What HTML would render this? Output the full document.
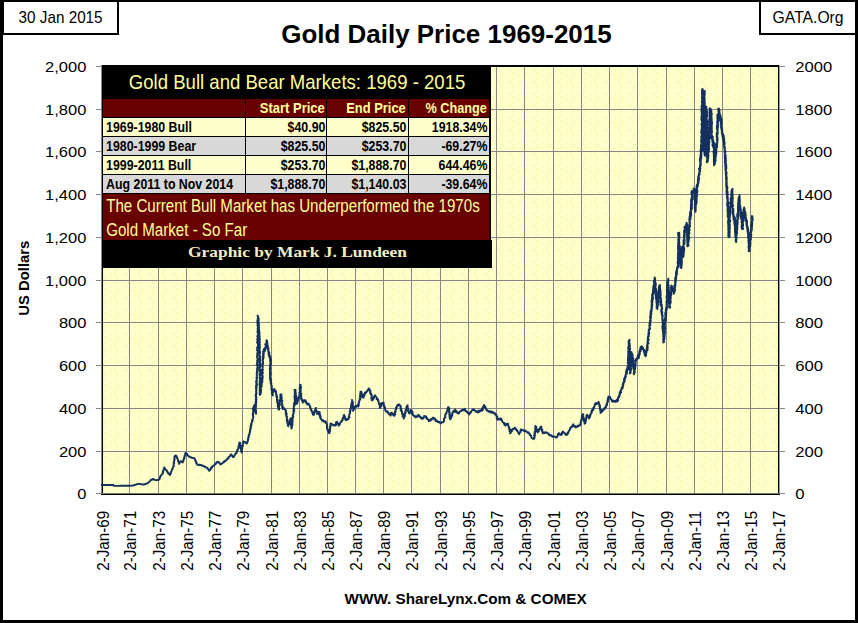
<!DOCTYPE html>
<html><head><meta charset="utf-8"><style>
html,body{margin:0;padding:0;background:#fff;}
svg{display:block;}
</style></head><body>
<svg width="858" height="623" viewBox="0 0 858 623">
<rect x="0" y="0" width="858" height="623" fill="#fff"/>
<defs><pattern id="dots" x="0" y="0" width="12" height="12" patternUnits="userSpaceOnUse"><rect width="12" height="12" fill="#FFFFCC"/><rect x="3" y="9" width="1" height="1" fill="#EDF8B0"/><rect x="8" y="2" width="1" height="1" fill="#EDF8B0"/><rect x="5" y="9" width="1" height="1" fill="#EDF8B0"/><rect x="7" y="10" width="1" height="1" fill="#EDF8B0"/><rect x="9" y="1" width="1" height="1" fill="#EDF8B0"/><rect x="9" y="0" width="1" height="1" fill="#EDF8B0"/><rect x="7" y="4" width="1" height="1" fill="#EDF8B0"/><rect x="8" y="3" width="1" height="1" fill="#EDF8B0"/><rect x="3" y="11" width="1" height="1" fill="#EDF8B0"/><rect x="7" y="8" width="1" height="1" fill="#EDF8B0"/><rect x="8" y="7" width="1" height="1" fill="#EDF8B0"/><rect x="6" y="10" width="1" height="1" fill="#EDF8B0"/><rect x="2" y="3" width="1" height="1" fill="#EDF8B0"/><rect x="10" y="2" width="1" height="1" fill="#EDF8B0"/><rect x="8" y="6" width="1" height="1" fill="#EDF8B0"/><rect x="11" y="0" width="1" height="1" fill="#EDF8B0"/></pattern></defs>
<rect x="102" y="66" width="677" height="428" fill="url(#dots)"/>
<rect x="103" y="451" width="675" height="1" fill="#868686"/>
<rect x="103" y="408" width="675" height="1" fill="#868686"/>
<rect x="103" y="365" width="675" height="1" fill="#868686"/>
<rect x="103" y="322" width="675" height="1" fill="#868686"/>
<rect x="103" y="280" width="675" height="1" fill="#868686"/>
<rect x="103" y="237" width="675" height="1" fill="#868686"/>
<rect x="103" y="194" width="675" height="1" fill="#868686"/>
<rect x="103" y="151" width="675" height="1" fill="#868686"/>
<rect x="103" y="109" width="675" height="1" fill="#868686"/>
<rect x="129" y="67" width="1" height="427" fill="#868686"/>
<rect x="158" y="67" width="1" height="427" fill="#868686"/>
<rect x="186" y="67" width="1" height="427" fill="#868686"/>
<rect x="214" y="67" width="1" height="427" fill="#868686"/>
<rect x="242" y="67" width="1" height="427" fill="#868686"/>
<rect x="271" y="67" width="1" height="427" fill="#868686"/>
<rect x="299" y="67" width="1" height="427" fill="#868686"/>
<rect x="327" y="67" width="1" height="427" fill="#868686"/>
<rect x="355" y="67" width="1" height="427" fill="#868686"/>
<rect x="383" y="67" width="1" height="427" fill="#868686"/>
<rect x="411" y="67" width="1" height="427" fill="#868686"/>
<rect x="440" y="67" width="1" height="427" fill="#868686"/>
<rect x="468" y="67" width="1" height="427" fill="#868686"/>
<rect x="496" y="67" width="1" height="427" fill="#868686"/>
<rect x="524" y="67" width="1" height="427" fill="#868686"/>
<rect x="553" y="67" width="1" height="427" fill="#868686"/>
<rect x="581" y="67" width="1" height="427" fill="#868686"/>
<rect x="609" y="67" width="1" height="427" fill="#868686"/>
<rect x="637" y="67" width="1" height="427" fill="#868686"/>
<rect x="666" y="67" width="1" height="427" fill="#868686"/>
<rect x="694" y="67" width="1" height="427" fill="#868686"/>
<rect x="722" y="67" width="1" height="427" fill="#868686"/>
<rect x="750" y="67" width="1" height="427" fill="#868686"/>
<rect x="96" y="493" width="5" height="1" fill="#868686"/>
<rect x="780" y="493" width="5" height="1" fill="#868686"/>
<rect x="96" y="451" width="5" height="1" fill="#868686"/>
<rect x="780" y="451" width="5" height="1" fill="#868686"/>
<rect x="96" y="408" width="5" height="1" fill="#868686"/>
<rect x="780" y="408" width="5" height="1" fill="#868686"/>
<rect x="96" y="365" width="5" height="1" fill="#868686"/>
<rect x="780" y="365" width="5" height="1" fill="#868686"/>
<rect x="96" y="322" width="5" height="1" fill="#868686"/>
<rect x="780" y="322" width="5" height="1" fill="#868686"/>
<rect x="96" y="280" width="5" height="1" fill="#868686"/>
<rect x="780" y="280" width="5" height="1" fill="#868686"/>
<rect x="96" y="237" width="5" height="1" fill="#868686"/>
<rect x="780" y="237" width="5" height="1" fill="#868686"/>
<rect x="96" y="194" width="5" height="1" fill="#868686"/>
<rect x="780" y="194" width="5" height="1" fill="#868686"/>
<rect x="96" y="151" width="5" height="1" fill="#868686"/>
<rect x="780" y="151" width="5" height="1" fill="#868686"/>
<rect x="96" y="109" width="5" height="1" fill="#868686"/>
<rect x="780" y="109" width="5" height="1" fill="#868686"/>
<rect x="96" y="66" width="5" height="1" fill="#868686"/>
<rect x="780" y="66" width="5" height="1" fill="#868686"/>
<rect x="101" y="65" width="679" height="2" fill="#000"/>
<rect x="101" y="65" width="1" height="430" fill="#888"/>
<rect x="102" y="65" width="1" height="430" fill="#000"/>
<rect x="778" y="65" width="1" height="430" fill="#000"/>
<rect x="779" y="65" width="1" height="430" fill="#999"/>
<rect x="101" y="493" width="679" height="1" fill="#777"/>
<rect x="101" y="494" width="679" height="1" fill="#000"/>
<path d="M101.71,484.97 L102.15,485.02 L102.80,485.01 L103.36,484.93 L103.81,484.93 L104.11,484.93 L105.00,484.99 L105.16,484.94 L106.04,485.02 L106.23,485.01 L106.52,485.08 L107.14,485.06 L107.53,484.94 L108.41,484.97 L108.76,484.95 L109.13,485.02 L109.45,485.01 L110.02,484.93 L110.63,485.03 L111.20,484.97 L111.53,484.99 L112.24,485.05 L112.65,484.96 L113.31,485.00 L113.28,485.33 L113.49,485.67 L114.14,485.89 L114.48,485.84 L115.06,485.82 L115.48,485.92 L115.82,485.92 L116.46,485.89 L116.86,485.87 L117.61,485.90 L117.94,485.84 L118.44,485.77 L119.09,485.85 L119.18,485.86 L119.87,485.79 L120.24,485.74 L120.53,485.75 L121.37,485.73 L121.56,485.73 L122.39,485.76 L122.64,485.71 L123.36,485.77 L123.83,485.80 L124.06,485.71 L124.80,485.72 L124.88,485.80 L125.41,485.68 L126.03,485.68 L126.39,485.72 L126.96,485.63 L127.50,485.68 L128.04,485.77 L128.46,485.70 L128.62,485.73 L129.49,485.76 L129.96,485.75 L130.21,485.68 L130.81,485.64 L130.96,485.64 L131.48,485.66 L131.89,485.68 L132.41,485.63 L132.99,485.48 L133.74,485.31 L133.81,485.24 L134.38,485.03 L134.72,484.89 L135.67,484.81 L135.86,484.59 L136.11,484.36 L136.67,484.25 L137.08,484.17 L137.99,483.87 L138.00,483.81 L138.40,483.87 L139.40,483.94 L139.71,484.06 L139.99,484.03 L140.69,484.08 L141.16,484.21 L141.31,484.24 L142.20,484.39 L142.57,484.46 L143.00,484.52 L143.34,484.49 L143.54,484.58 L144.10,484.37 L144.75,484.25 L145.04,484.21 L145.76,484.05 L145.84,483.90 L146.18,483.62 L146.59,483.46 L147.40,483.38 L147.59,483.26 L148.13,482.89 L148.40,482.43 L148.83,482.25 L149.01,481.88 L149.54,481.41 L149.91,481.10 L150.03,480.90 L150.70,480.42 L150.61,480.16 L150.98,479.82 L151.75,479.84 L152.14,479.46 L152.43,479.49 L152.75,479.14 L152.81,478.90 L153.59,479.31 L154.16,479.38 L154.52,479.54 L154.53,479.83 L154.98,479.87 L155.55,480.05 L155.85,480.24 L156.61,480.11 L156.82,480.06 L157.55,480.02 L158.03,479.88 L158.28,479.80 L158.45,479.71 L159.01,479.58 L159.55,479.01 L159.53,478.59 L159.76,478.28 L159.91,477.70 L160.25,477.30 L160.29,476.71 L160.29,476.28 L160.60,475.99 L161.08,475.54 L161.20,475.27 L161.55,474.79 L161.99,474.37 L162.20,473.97 L162.78,473.59 L162.88,473.20 L162.63,472.83 L163.20,472.22 L162.82,471.86 L163.16,471.10 L163.16,470.61 L163.58,470.14 L163.87,469.97 L163.89,469.23 L163.65,468.98 L164.33,468.61 L164.46,467.84 L164.29,467.45 L164.79,468.09 L164.79,468.08 L164.99,468.61 L165.25,468.83 L165.32,469.43 L165.86,469.72 L166.06,469.86 L166.44,470.49 L167.01,470.62 L167.24,471.30 L167.02,471.41 L167.58,471.77 L167.40,472.24 L168.13,472.69 L167.95,473.22 L168.66,473.29 L168.83,473.76 L168.72,473.90 L169.25,474.43 L169.87,474.54 L170.09,475.05 L170.31,474.44 L170.51,474.01 L170.37,473.72 L170.93,473.34 L170.62,472.81 L170.87,472.49 L171.01,471.91 L171.23,471.46 L171.49,471.14 L171.66,470.91 L171.75,470.33 L171.80,469.80 L171.96,469.29 L172.47,469.04 L172.58,468.33 L172.49,468.20 L172.86,467.68 L173.29,467.06 L173.23,466.55 L173.71,466.23 L173.77,465.59 L173.79,465.31 L173.65,464.66 L173.55,463.97 L174.02,463.49 L173.68,463.09 L174.20,462.50 L174.14,462.45 L173.89,461.62 L174.10,461.13 L174.14,460.55 L174.56,460.12 L174.32,460.05 L174.67,459.11 L174.29,458.66 L174.36,457.96 L174.50,457.77 L174.55,457.10 L174.43,456.47 L174.88,456.17 L174.95,455.79 L175.45,455.62 L176.02,455.46 L176.30,455.95 L176.64,456.31 L176.41,456.47 L176.46,457.24 L177.00,457.45 L177.31,457.47 L177.32,458.48 L177.62,458.84 L177.57,458.93 L177.96,459.62 L178.12,460.27 L178.33,460.60 L178.35,461.12 L178.05,461.32 L178.45,461.73 L178.94,462.18 L178.96,462.90 L179.16,463.40 L178.86,463.79 L179.57,463.56 L179.62,463.00 L179.50,462.69 L179.83,462.33 L180.04,461.56 L180.19,461.53 L180.94,461.14 L180.90,461.23 L181.50,461.45 L181.83,461.85 L181.84,462.02 L182.35,461.97 L182.76,462.54 L182.69,461.98 L182.99,461.22 L183.42,461.11 L183.26,460.65 L183.51,460.09 L183.39,459.60 L183.58,459.40 L184.23,458.99 L184.02,457.92 L184.51,457.97 L184.13,457.27 L184.78,456.64 L184.67,456.17 L184.78,455.66 L184.65,455.75 L185.08,455.19 L185.38,454.77 L185.69,453.84 L185.19,453.56 L185.69,452.74 L185.87,453.38 L186.22,453.47 L186.90,453.92 L187.15,454.01 L187.00,454.92 L187.76,455.30 L187.77,455.61 L188.18,455.57 L188.65,456.32 L188.86,456.22 L188.91,456.49 L189.82,456.71 L190.22,457.16 L190.20,457.23 L190.61,457.49 L191.64,457.49 L192.01,457.91 L192.55,457.83 L192.76,458.12 L192.86,458.07 L193.62,458.17 L194.23,458.27 L194.27,458.06 L194.50,458.90 L194.82,459.04 L195.26,459.36 L195.08,460.20 L195.28,460.43 L195.51,460.80 L195.51,461.00 L196.19,461.45 L195.88,462.04 L196.58,462.70 L196.15,462.87 L196.32,463.11 L196.52,463.57 L196.83,463.90 L197.46,464.46 L197.34,464.93 L197.88,464.76 L198.22,464.74 L198.65,464.57 L199.01,465.04 L199.82,464.80 L200.01,464.99 L200.49,464.86 L201.09,465.10 L201.82,465.56 L201.73,465.69 L202.65,465.44 L202.96,466.05 L203.10,466.07 L204.19,466.15 L204.55,466.59 L204.56,466.88 L204.91,466.69 L205.67,467.11 L206.11,467.53 L206.55,467.62 L206.82,467.76 L207.39,467.79 L207.76,468.23 L207.65,468.77 L207.90,468.88 L208.48,469.46 L208.36,469.58 L208.98,470.11 L209.03,470.40 L209.19,470.84 L209.73,470.33 L210.10,470.23 L210.25,469.82 L210.35,469.16 L210.91,469.10 L210.71,468.42 L211.40,468.13 L211.38,467.71 L212.07,467.44 L211.73,466.85 L212.25,466.52 L212.48,466.41 L213.22,466.19 L213.24,465.76 L213.69,465.72 L214.02,465.36 L214.71,464.72 L215.18,464.42 L215.00,464.19 L215.49,463.71 L216.19,463.61 L216.14,462.99 L216.88,462.69 L216.58,462.31 L217.15,461.92 L217.83,462.07 L218.25,461.64 L218.13,462.10 L218.90,462.02 L218.62,462.69 L219.22,462.99 L219.53,463.18 L219.66,463.42 L220.25,463.83 L220.44,464.54 L220.90,464.28 L221.72,463.68 L221.85,463.66 L222.28,462.97 L222.99,462.87 L223.01,462.50 L223.17,462.62 L224.09,462.03 L223.92,461.91 L224.30,461.17 L224.81,461.37 L225.63,460.95 L225.56,460.38 L226.17,460.44 L226.61,459.69 L226.67,459.41 L227.38,458.89 L227.59,459.10 L227.44,458.76 L228.06,457.94 L228.70,458.05 L228.48,457.32 L228.95,456.98 L229.01,456.95 L229.71,456.51 L230.03,456.17 L230.00,455.66 L230.31,455.10 L230.40,455.06 L231.19,454.29 L230.96,454.67 L231.61,454.88 L232.22,455.43 L232.51,456.16 L232.13,456.09 L232.72,456.33 L232.97,457.09 L233.24,457.13 L233.69,456.99 L234.09,456.68 L233.82,456.24 L234.21,455.97 L234.54,455.39 L234.68,455.12 L234.98,454.38 L235.72,453.92 L235.57,453.83 L236.34,453.31 L236.03,453.00 L236.62,452.83 L236.39,452.51 L237.12,451.66 L237.39,451.48 L237.10,450.40 L237.21,450.00 L237.70,450.21 L237.73,449.72 L237.98,449.22 L238.43,448.26 L238.09,448.37 L238.61,447.61 L238.53,446.83 L238.51,446.30 L238.95,445.92 L238.75,445.80 L238.96,444.77 L238.96,444.89 L239.09,444.10 L239.49,444.07 L239.24,442.94 L239.72,442.77 L239.46,442.53 L240.04,442.58 L239.78,443.30 L240.41,443.70 L240.17,444.19 L240.13,444.72 L240.68,445.66 L240.12,445.71 L240.20,446.51 L240.84,446.39 L240.85,447.24 L240.98,447.71 L240.50,448.25 L240.88,448.38 L241.24,449.37 L241.09,449.42 L241.08,450.14 L240.99,450.46 L241.57,451.24 L241.31,451.41 L241.75,452.43 L241.21,451.50 L241.95,451.60 L241.33,450.78 L241.68,450.65 L241.95,450.17 L241.68,449.64 L241.82,449.14 L242.40,448.37 L241.97,448.25 L242.23,447.27 L242.31,447.05 L242.29,446.25 L242.90,446.29 L242.73,445.23 L242.40,445.38 L242.55,444.99 L242.99,444.31 L242.89,443.86 L243.20,443.21 L243.36,442.74 L243.27,442.29 L243.51,441.42 L243.28,441.39 L244.14,441.88 L244.06,441.84 L244.41,442.09 L245.09,442.01 L245.51,442.21 L245.60,442.83 L246.05,443.19 L247.03,443.51 L246.57,442.85 L246.97,442.38 L246.91,442.33 L247.75,441.78 L247.74,441.20 L248.02,440.22 L248.13,440.04 L247.61,439.99 L248.38,439.40 L248.03,438.23 L248.00,438.45 L248.24,438.13 L248.26,437.59 L249.06,436.80 L248.60,436.01 L248.74,435.83 L248.73,434.86 L249.48,434.50 L249.54,434.56 L249.55,433.53 L249.43,432.98 L249.38,433.06 L249.65,432.84 L250.04,432.03 L250.24,431.01 L249.81,431.12 L249.79,430.82 L250.17,430.56 L250.46,429.36 L250.04,428.97 L250.04,428.84 L250.34,428.44 L251.13,427.75 L250.95,427.20 L250.46,426.39 L250.71,425.57 L251.09,425.79 L251.63,425.18 L251.13,424.23 L251.05,424.39 L251.48,423.09 L251.60,422.73 L251.93,422.40 L251.69,422.38 L252.06,421.94 L252.62,420.82 L251.98,420.48 L252.57,419.80 L252.82,420.34 L252.44,419.24 L252.92,418.23 L252.75,418.48 L252.87,418.11 L253.17,418.03 L253.36,416.59 L253.02,415.82 L252.75,415.83 L253.31,414.86 L253.10,414.30 L252.72,415.13 L253.20,413.59 L253.26,413.54 L252.81,413.50 L252.96,412.28 L253.58,411.41 L253.42,412.00 L253.58,410.36 L253.21,410.98 L253.22,410.49 L252.89,409.22 L252.84,408.74 L253.59,408.41 L253.71,408.47 L253.14,408.01 L253.33,407.28 L253.71,407.27 L254.12,406.06 L253.95,406.78 L254.02,406.27 L254.54,404.90 L255.57,405.29 L254.95,405.77 L254.98,406.45 L255.62,405.91 L255.43,407.00 L255.76,407.53 L255.64,407.69 L255.69,408.52 L255.58,408.59 L255.19,409.27 L255.54,409.20 L255.87,409.47 L255.00,410.05 L255.95,410.47 L255.18,411.30 L255.11,411.31 L255.74,412.76 L255.87,413.24 L255.76,412.80 L256.02,413.70 L256.10,413.87 L256.09,412.29 L256.18,413.03 L255.44,411.35 L255.28,410.87 L256.08,411.47 L256.10,410.66 L255.57,410.17 L255.38,408.87 L255.50,409.38 L255.74,408.21 L255.57,407.26 L256.06,407.17 L255.66,406.81 L255.86,407.25 L255.99,406.59 L255.79,404.80 L256.18,404.95 L256.11,404.31 L255.61,404.13 L255.48,404.16 L255.58,403.61 L255.62,401.77 L256.46,402.53 L255.95,400.79 L256.29,401.10 L255.98,400.10 L256.35,399.88 L256.48,399.24 L255.70,398.78 L256.02,399.00 L256.18,397.50 L256.36,396.95 L256.37,397.53 L255.90,396.92 L255.96,396.03 L255.63,396.40 L255.57,395.91 L255.84,394.20 L256.12,394.95 L256.56,393.52 L256.09,392.77 L256.44,392.82 L256.32,392.73 L255.97,391.50 L256.57,390.65 L256.47,391.09 L256.13,389.68 L256.31,390.31 L256.20,388.60 L255.96,389.54 L256.05,387.73 L256.70,388.20 L255.92,386.66 L256.14,386.34 L255.96,386.37 L256.01,385.50 L256.67,386.26 L256.96,384.06 L256.30,383.55 L256.81,384.80 L256.40,383.81 L256.66,382.24 L256.16,381.56 L255.98,381.63 L256.90,381.15 L256.57,381.26 L256.55,380.64 L256.74,379.13 L256.92,379.18 L256.57,379.72 L256.97,378.53 L256.37,377.72 L257.17,377.85 L256.97,377.46 L256.97,377.14 L256.72,376.20 L256.94,375.00 L256.71,374.04 L257.09,375.01 L256.55,374.19 L256.82,373.25 L256.78,373.18 L257.42,372.80 L257.11,371.23 L256.81,372.04 L257.54,370.91 L257.04,369.41 L257.34,369.18 L257.05,370.42 L257.14,368.04 L257.33,368.54 L257.25,367.98 L257.13,368.20 L257.66,366.75 L257.37,365.79 L257.48,365.71 L257.76,364.59 L256.67,364.63 L257.10,363.95 L257.14,362.84 L257.50,363.29 L257.00,362.63 L257.59,361.83 L257.35,363.03 L257.70,360.82 L257.02,360.74 L257.71,359.61 L257.56,360.75 L257.48,359.43 L257.97,358.34 L257.59,358.15 L257.81,358.78 L257.19,357.43 L256.99,357.13 L257.27,357.33 L257.18,356.88 L257.17,355.20 L257.09,354.83 L257.74,353.27 L257.18,353.46 L257.47,353.01 L257.66,352.83 L257.34,352.92 L257.94,353.11 L257.91,350.39 L257.86,352.06 L257.93,349.59 L256.96,350.37 L258.09,348.26 L257.25,349.43 L257.13,347.48 L257.90,347.33 L257.16,347.12 L257.93,348.10 L258.06,345.65 L257.93,346.32 L258.07,345.98 L258.01,345.81 L257.85,343.72 L257.91,344.12 L258.09,343.37 L257.35,343.19 L257.21,341.82 L257.12,342.02 L257.23,341.45 L257.66,341.02 L258.10,340.65 L258.08,338.68 L257.76,339.46 L258.10,339.51 L257.60,338.20 L257.19,339.34 L257.87,337.94 L257.85,335.72 L258.24,337.07 L258.31,335.57 L257.72,335.59 L257.19,336.19 L257.90,335.18 L258.19,333.60 L257.73,333.18 L258.10,333.14 L257.70,331.72 L257.85,331.84 L257.54,332.52 L257.68,332.03 L257.53,330.58 L258.38,330.09 L258.17,330.03 L257.61,328.57 L257.94,327.98 L258.18,328.48 L258.12,326.20 L257.91,328.23 L257.62,325.22 L257.50,324.59 L258.01,326.86 L258.23,325.56 L258.02,325.83 L258.05,324.44 L258.02,324.19 L257.57,323.64 L257.87,323.10 L257.45,322.90 L257.38,320.60 L258.43,321.94 L257.79,321.08 L258.30,321.10 L257.67,319.79 L257.87,318.47 L257.89,318.02 L258.50,318.54 L258.07,316.19 L257.54,315.63 L258.09,317.59 L257.97,318.43 L257.92,316.05 L258.61,318.38 L258.09,320.10 L257.67,318.81 L257.83,320.03 L257.63,318.99 L258.46,319.03 L258.83,319.89 L258.74,320.29 L257.75,320.91 L258.05,323.23 L258.01,323.77 L258.74,322.17 L258.87,324.70 L257.98,325.24 L258.75,325.43 L259.05,325.41 L259.12,325.29 L258.01,327.18 L258.80,325.57 L258.15,328.47 L258.96,327.45 L259.14,327.52 L258.21,328.97 L258.86,329.11 L259.01,329.82 L259.18,329.45 L259.02,330.58 L258.78,331.85 L259.24,331.62 L259.27,333.74 L258.70,333.13 L259.54,332.16 L259.39,334.50 L259.15,333.92 L259.45,336.26 L258.85,335.67 L259.57,335.67 L259.35,336.01 L259.63,337.14 L258.91,338.20 L258.92,336.43 L259.33,338.10 L259.71,339.69 L259.67,338.02 L259.74,340.65 L259.05,340.47 L259.72,341.73 L259.87,341.76 L258.90,341.32 L259.78,342.38 L259.75,341.91 L259.16,344.38 L259.71,343.99 L259.15,344.10 L259.81,344.03 L259.47,345.97 L259.90,344.59 L259.21,346.90 L260.02,346.89 L259.57,348.19 L259.66,347.61 L259.19,347.35 L259.81,347.83 L259.65,348.80 L259.60,349.40 L259.04,349.24 L259.44,351.93 L259.76,350.13 L259.20,352.37 L259.43,352.38 L259.05,352.68 L260.22,351.95 L259.62,354.55 L259.36,354.29 L259.56,355.31 L259.98,356.22 L260.22,356.40 L259.12,355.49 L259.29,355.86 L259.14,356.07 L260.14,357.73 L260.23,357.99 L259.18,359.58 L259.59,359.32 L260.27,358.66 L259.80,359.49 L260.28,360.91 L259.61,361.47 L259.34,361.44 L260.34,363.16 L259.20,361.90 L259.59,362.47 L260.26,364.49 L259.24,364.83 L260.04,365.20 L260.37,365.37 L259.37,364.50 L260.33,366.61 L259.57,366.93 L260.13,367.23 L259.61,366.62 L259.38,367.46 L259.44,368.46 L259.42,368.41 L259.27,369.90 L259.49,370.48 L260.38,369.46 L260.39,370.37 L260.35,372.29 L259.82,371.19 L260.41,371.59 L260.06,373.71 L259.72,373.36 L259.89,374.66 L259.49,374.73 L259.40,374.36 L260.00,375.91 L260.39,375.19 L259.84,375.95 L259.68,376.22 L259.76,378.15 L259.96,377.24 L260.46,378.05 L260.56,378.13 L260.46,378.51 L259.65,380.26 L259.75,380.37 L259.65,380.42 L260.61,381.13 L260.53,382.90 L259.78,381.59 L259.51,383.68 L259.80,383.84 L259.48,384.83 L259.87,384.99 L259.48,384.17 L260.10,386.02 L260.00,385.26 L259.75,387.16 L259.67,387.00 L260.41,386.75 L259.75,388.26 L259.63,387.55 L260.11,389.05 L259.79,388.92 L260.37,390.05 L260.23,390.91 L259.65,390.28 L260.05,391.76 L259.65,392.23 L259.98,392.89 L260.58,393.44 L259.63,393.30 L260.16,394.55 L259.93,394.97 L260.57,394.24 L259.89,394.07 L260.44,393.58 L260.43,392.43 L260.49,392.73 L260.78,391.65 L261.02,392.43 L260.92,391.03 L261.03,390.64 L261.24,389.56 L260.87,390.73 L260.98,389.41 L260.46,388.97 L260.76,389.29 L260.69,387.31 L261.59,386.94 L260.82,386.02 L261.00,386.82 L261.54,385.01 L261.52,385.60 L261.09,385.36 L261.88,385.19 L261.25,383.08 L261.76,383.47 L261.38,382.55 L261.47,382.31 L262.36,382.20 L262.04,380.81 L261.57,381.53 L262.52,381.21 L261.92,379.83 L262.07,380.26 L262.60,378.86 L261.90,379.16 L261.92,377.56 L262.72,377.47 L262.66,377.76 L262.60,377.29 L262.23,375.20 L262.76,376.63 L262.17,374.63 L262.12,374.96 L261.79,374.25 L262.34,373.55 L261.92,372.17 L262.71,373.74 L262.56,373.18 L262.89,372.42 L261.89,372.10 L262.19,371.07 L262.23,370.67 L263.03,369.88 L262.25,369.57 L262.49,368.85 L262.34,369.33 L262.79,367.39 L262.75,366.47 L262.68,367.89 L262.65,365.83 L262.29,365.95 L262.29,364.51 L262.65,364.41 L262.48,363.91 L262.86,362.95 L262.96,364.22 L263.04,363.10 L263.13,361.74 L262.96,361.86 L262.89,361.74 L262.64,360.53 L262.99,359.82 L263.10,359.72 L262.86,358.34 L262.75,359.92 L263.09,358.70 L263.72,357.56 L263.49,357.10 L262.68,356.29 L263.16,357.56 L263.13,355.08 L263.58,355.54 L263.00,354.23 L263.65,355.88 L263.20,353.38 L263.64,353.40 L263.89,353.59 L263.52,353.63 L263.83,352.94 L263.54,352.52 L263.85,352.11 L263.19,351.96 L263.07,351.37 L263.80,350.63 L264.29,349.45 L263.67,349.17 L264.25,349.24 L263.84,349.18 L264.11,349.18 L264.09,350.28 L264.59,349.82 L264.49,350.20 L265.22,350.76 L264.83,349.53 L264.76,348.22 L265.19,347.63 L264.71,348.29 L265.09,348.70 L265.81,348.01 L265.15,347.83 L266.09,345.94 L265.16,344.35 L265.80,345.34 L266.23,345.81 L266.60,344.30 L266.12,343.76 L266.07,343.73 L266.41,342.35 L266.94,341.85 L266.53,342.25 L266.45,340.18 L266.77,340.53 L267.23,341.49 L266.83,343.04 L267.07,342.09 L266.81,344.08 L267.45,343.30 L266.93,342.81 L267.62,345.47 L266.83,344.70 L267.60,346.21 L268.04,346.49 L267.43,347.15 L267.35,345.69 L267.70,347.11 L267.41,346.74 L268.01,348.38 L268.57,348.14 L267.52,349.36 L268.51,349.26 L268.49,349.47 L268.12,349.17 L268.55,351.81 L268.17,351.84 L268.70,351.89 L268.90,351.78 L269.42,352.94 L268.81,353.53 L268.59,352.87 L268.63,354.95 L268.82,353.78 L269.72,355.32 L269.82,356.03 L268.98,355.15 L269.47,357.38 L269.62,357.73 L269.64,356.87 L270.52,357.19 L269.97,358.85 L270.13,359.01 L270.85,358.54 L271.05,360.30 L270.64,360.45 L269.94,360.49 L270.91,362.61 L270.96,361.64 L270.24,363.32 L271.02,363.31 L271.00,363.55 L270.32,363.45 L270.11,365.06 L270.89,364.60 L270.79,365.50 L270.04,365.44 L270.05,366.20 L270.17,368.09 L269.95,367.65 L270.27,368.08 L269.88,368.28 L270.79,368.15 L270.08,369.16 L270.12,369.29 L269.82,369.89 L270.18,371.33 L270.61,370.71 L270.08,371.07 L269.91,373.18 L270.75,372.82 L269.93,374.10 L270.60,373.62 L270.88,374.17 L270.86,374.30 L269.99,375.43 L269.87,375.81 L270.02,376.84 L270.41,377.74 L270.05,377.11 L270.07,378.09 L270.03,379.12 L270.59,378.86 L270.92,378.85 L270.85,379.57 L270.49,380.42 L270.28,380.55 L271.26,380.60 L271.09,381.38 L271.03,381.44 L271.01,382.43 L270.56,382.79 L270.81,383.30 L271.45,383.42 L271.14,384.21 L271.63,385.92 L271.79,386.35 L271.17,385.38 L271.70,385.67 L271.38,387.37 L271.79,387.38 L271.38,388.41 L271.56,389.17 L271.42,389.24 L272.32,388.76 L272.15,390.40 L271.44,389.59 L271.68,390.30 L271.95,391.05 L271.93,391.05 L271.84,392.63 L272.34,393.48 L272.05,393.74 L272.59,393.72 L271.88,394.05 L272.81,395.40 L272.09,393.95 L272.82,394.50 L272.51,392.58 L273.23,392.23 L273.47,391.94 L272.63,392.46 L273.08,391.89 L273.67,391.52 L272.93,390.19 L273.41,390.97 L273.82,390.47 L274.08,389.65 L273.96,389.77 L274.56,389.02 L274.66,390.05 L274.53,391.31 L274.75,391.33 L275.93,391.55 L275.95,391.06 L276.13,392.84 L275.77,392.55 L275.97,392.15 L275.87,393.28 L275.87,393.58 L276.54,394.77 L276.14,394.42 L276.44,395.40 L276.42,396.62 L277.08,395.99 L276.80,396.20 L277.16,397.02 L277.17,397.87 L277.14,397.70 L276.99,398.93 L277.47,399.69 L276.96,399.07 L276.94,399.97 L277.10,399.96 L277.63,400.67 L277.07,401.57 L277.53,401.85 L277.29,402.40 L277.20,402.41 L278.06,404.39 L278.10,403.41 L278.01,405.33 L278.01,404.42 L277.77,405.43 L277.66,406.08 L278.40,407.16 L278.77,407.18 L278.14,407.70 L278.10,407.56 L278.83,407.71 L278.41,409.43 L278.84,408.92 L279.21,409.44 L279.14,407.91 L279.17,408.44 L278.66,407.17 L278.87,407.46 L279.18,406.25 L279.55,405.76 L278.79,405.06 L279.48,405.09 L279.64,405.01 L279.96,404.66 L279.56,403.50 L279.42,402.46 L279.26,402.66 L279.42,402.35 L280.36,401.46 L279.43,400.37 L279.66,400.47 L279.53,400.45 L280.52,400.17 L280.13,399.59 L280.46,398.24 L280.27,398.14 L280.36,397.35 L280.86,397.42 L280.20,397.35 L280.58,395.79 L280.54,395.77 L280.32,394.63 L280.81,394.37 L281.39,395.04 L281.53,394.36 L281.19,395.01 L280.61,395.23 L281.28,395.47 L281.29,395.29 L281.25,396.93 L281.10,396.88 L281.80,396.83 L281.08,396.78 L281.42,398.39 L281.71,397.86 L281.67,398.84 L281.67,399.40 L281.58,400.14 L281.40,399.87 L281.85,401.65 L282.24,400.84 L281.47,401.57 L281.69,402.51 L282.07,402.93 L282.14,402.99 L282.13,403.29 L281.73,404.55 L281.78,404.75 L282.66,405.28 L282.56,405.95 L281.98,406.76 L282.67,407.61 L282.84,406.71 L282.21,407.65 L282.67,409.01 L282.63,408.88 L282.94,409.04 L283.67,408.37 L284.30,408.19 L284.39,408.65 L284.92,409.56 L285.52,409.99 L285.55,410.44 L285.94,410.99 L285.90,410.35 L286.00,411.10 L286.14,412.08 L285.77,411.74 L286.43,413.13 L285.61,413.58 L285.75,413.90 L286.53,414.30 L286.73,414.16 L286.15,415.44 L286.42,415.25 L286.64,416.63 L286.17,416.11 L287.02,416.59 L286.86,417.18 L287.07,417.81 L286.63,418.41 L287.09,419.56 L287.44,419.79 L286.76,420.62 L286.97,420.30 L287.74,420.99 L287.03,421.86 L287.86,421.54 L287.54,422.67 L287.40,422.89 L287.70,423.84 L287.99,424.35 L287.81,423.84 L288.42,424.50 L287.71,425.44 L288.09,425.41 L288.37,426.26 L288.29,425.70 L288.63,424.76 L288.24,424.70 L289.27,424.39 L288.62,423.41 L288.86,423.73 L289.21,422.76 L289.40,422.28 L289.90,422.15 L289.15,422.29 L289.98,421.27 L290.12,421.21 L290.11,420.43 L289.90,419.61 L290.60,419.73 L290.55,419.46 L290.76,418.13 L290.56,419.20 L290.46,419.54 L290.57,419.91 L290.55,419.74 L291.23,420.57 L290.69,421.26 L290.62,421.43 L290.57,422.05 L291.32,422.10 L290.97,423.15 L290.89,423.78 L290.72,423.76 L291.00,424.41 L291.28,425.41 L291.14,426.15 L291.41,426.61 L291.10,426.07 L291.89,427.15 L291.75,427.37 L291.88,427.93 L291.59,427.99 L291.45,428.48 L291.28,427.23 L291.56,426.62 L291.57,426.78 L291.62,425.92 L292.29,425.68 L291.73,425.24 L292.50,424.86 L291.73,424.20 L292.54,423.97 L291.90,422.89 L292.33,422.20 L292.49,422.59 L292.14,422.17 L292.71,420.90 L292.44,420.83 L292.44,420.38 L292.57,419.06 L292.83,418.55 L292.76,418.44 L292.59,418.31 L292.41,417.63 L293.00,417.78 L292.56,417.38 L293.28,416.37 L292.72,415.48 L292.82,414.74 L292.83,415.11 L293.22,414.69 L293.44,413.81 L293.57,413.34 L293.30,412.91 L293.28,412.63 L293.85,412.10 L293.45,411.70 L294.19,411.21 L293.53,410.24 L294.27,409.85 L293.37,408.77 L294.09,408.80 L293.85,408.76 L293.77,408.61 L293.68,407.76 L293.79,406.13 L294.23,405.68 L293.95,405.97 L294.20,406.09 L294.06,404.34 L294.86,404.80 L293.94,403.38 L294.18,403.89 L294.48,403.74 L294.33,402.69 L294.47,402.47 L294.97,401.20 L294.81,400.35 L294.73,399.79 L294.99,399.86 L294.68,398.80 L295.09,398.90 L294.79,399.33 L294.40,397.61 L294.62,397.18 L294.38,396.64 L294.89,397.07 L295.30,395.78 L294.85,395.14 L295.19,394.55 L294.55,395.33 L295.19,394.63 L294.66,393.31 L295.31,393.18 L295.09,392.11 L294.85,392.41 L295.36,391.89 L295.38,390.73 L295.28,390.52 L294.62,390.96 L295.57,390.48 L294.51,389.91 L295.65,390.06 L295.62,390.36 L295.48,391.12 L294.88,391.51 L294.85,393.07 L295.83,392.94 L295.84,394.11 L294.94,395.07 L295.84,394.22 L295.05,395.52 L295.32,395.68 L295.23,396.04 L296.27,395.82 L296.19,396.83 L295.81,396.98 L295.80,397.50 L296.13,398.06 L296.24,398.50 L295.61,399.59 L296.08,399.84 L295.98,401.27 L296.69,400.59 L296.49,402.19 L295.95,401.67 L295.88,402.14 L296.41,402.27 L296.51,403.36 L295.98,403.78 L296.81,403.86 L296.85,403.17 L297.47,402.96 L297.33,402.82 L297.05,401.58 L297.91,401.17 L297.43,400.66 L297.31,400.25 L297.31,400.79 L298.46,399.68 L298.27,398.63 L298.02,398.39 L298.03,397.63 L298.91,398.29 L298.25,397.96 L298.71,397.14 L299.10,396.61 L299.72,395.58 L299.53,394.54 L299.32,395.57 L299.91,394.63 L299.55,393.51 L299.32,393.95 L299.39,393.42 L299.69,392.60 L299.42,392.40 L299.72,391.83 L299.85,390.61 L300.24,390.20 L300.08,390.11 L299.85,389.72 L299.52,388.68 L300.02,389.53 L300.07,388.29 L299.78,388.37 L300.51,386.66 L300.36,386.74 L300.70,386.97 L299.76,386.57 L300.74,385.15 L299.96,385.52 L300.14,384.71 L300.30,385.10 L300.52,386.94 L300.05,386.75 L301.15,387.13 L300.54,388.18 L300.98,388.26 L300.26,389.27 L300.55,389.61 L300.43,389.79 L300.58,390.00 L300.25,390.50 L300.91,390.66 L300.50,390.88 L300.64,392.58 L300.64,392.34 L300.51,393.75 L301.40,393.88 L300.95,393.58 L301.20,395.13 L300.59,394.86 L300.99,395.47 L300.94,396.43 L301.36,396.38 L301.07,397.57 L301.35,397.32 L300.96,398.73 L301.70,399.26 L301.81,398.69 L301.33,399.08 L301.84,400.26 L302.13,400.32 L302.58,401.41 L302.57,400.40 L302.59,401.58 L302.71,402.66 L303.49,401.71 L303.32,401.30 L303.95,401.07 L304.13,400.99 L303.64,400.18 L304.46,400.30 L304.95,400.85 L304.62,400.16 L305.53,400.50 L305.01,400.94 L305.78,402.42 L306.17,401.67 L306.22,403.15 L306.70,402.47 L306.98,403.32 L307.61,404.51 L307.29,404.55 L308.07,403.93 L308.95,403.66 L308.57,404.34 L308.95,404.65 L309.66,405.77 L309.68,405.67 L309.72,405.40 L310.40,407.14 L310.00,407.58 L309.95,407.02 L310.44,407.99 L310.73,408.34 L310.76,408.98 L310.75,409.76 L311.28,410.40 L311.20,409.54 L311.46,410.72 L311.53,411.23 L312.17,411.25 L312.25,411.74 L312.29,412.94 L312.90,412.78 L313.11,413.12 L312.93,412.91 L312.82,414.10 L313.11,414.77 L313.48,414.74 L314.01,414.76 L314.10,414.15 L314.43,413.52 L314.11,412.53 L314.19,412.88 L314.40,412.56 L314.44,410.91 L315.46,411.48 L315.31,410.49 L315.71,409.81 L315.10,410.01 L315.80,408.61 L316.10,408.14 L315.62,408.08 L315.85,409.00 L315.82,409.44 L316.13,410.44 L316.09,410.80 L317.07,411.21 L316.24,411.08 L317.00,411.53 L317.04,411.78 L317.09,412.06 L317.19,413.46 L317.01,413.86 L317.29,413.73 L318.43,413.52 L318.23,413.19 L318.31,411.89 L318.73,412.22 L318.59,412.14 L319.48,411.94 L319.27,412.57 L318.99,412.28 L319.86,413.01 L319.31,414.30 L319.23,414.87 L320.28,414.87 L320.37,414.97 L319.61,415.87 L320.12,415.88 L320.52,416.22 L320.68,416.59 L320.10,417.22 L320.24,418.04 L321.03,418.49 L320.83,419.01 L321.00,418.71 L321.24,419.26 L321.59,419.53 L321.82,420.05 L322.04,420.68 L323.20,420.25 L323.53,420.68 L323.61,421.56 L323.68,420.78 L324.14,421.89 L324.97,421.56 L325.34,421.24 L325.83,421.47 L325.79,422.39 L325.94,422.48 L325.80,422.98 L326.61,423.51 L326.74,424.33 L326.90,424.21 L326.88,425.28 L326.90,425.86 L327.07,425.93 L326.74,426.33 L326.97,426.67 L326.99,427.74 L326.92,428.66 L327.23,428.73 L327.91,429.18 L327.43,429.74 L328.09,429.64 L327.76,430.92 L328.52,430.93 L328.38,431.59 L328.67,432.01 L328.44,432.57 L328.97,433.02 L328.86,432.87 L329.60,433.12 L329.15,433.10 L329.19,432.24 L329.31,431.58 L330.03,431.23 L329.92,431.49 L329.71,430.41 L330.13,430.25 L329.94,429.73 L329.98,428.59 L330.18,428.85 L330.17,427.47 L329.72,427.28 L330.24,427.52 L329.80,426.76 L330.59,426.37 L330.46,425.97 L330.57,425.39 L330.28,424.60 L330.66,424.40 L330.26,423.96 L330.53,423.59 L330.47,423.92 L331.44,424.29 L331.82,423.74 L331.55,424.07 L331.92,424.70 L332.88,425.09 L333.15,425.33 L333.68,424.97 L334.04,425.46 L334.63,425.65 L334.40,424.98 L335.55,425.29 L335.79,424.90 L336.12,425.06 L335.98,423.57 L335.76,423.12 L336.19,423.67 L336.37,422.95 L336.29,422.15 L337.03,421.71 L336.77,422.45 L337.01,422.17 L337.43,423.36 L338.04,423.70 L338.18,423.42 L338.58,423.73 L338.32,424.31 L338.67,425.67 L339.44,424.38 L339.73,424.47 L339.65,423.82 L339.93,424.15 L339.92,423.81 L340.17,423.23 L340.30,422.46 L341.48,421.63 L341.63,421.60 L341.48,420.96 L341.95,420.38 L342.06,420.93 L342.61,419.84 L342.51,420.08 L342.62,418.53 L343.09,418.57 L342.96,418.01 L342.83,417.93 L343.27,417.33 L343.25,417.41 L343.87,416.21 L343.88,415.33 L343.76,415.76 L344.10,414.98 L344.23,415.16 L343.68,415.43 L343.93,415.30 L344.82,416.65 L344.67,416.00 L344.28,417.07 L345.11,417.29 L344.80,418.10 L344.96,418.74 L345.23,418.91 L345.60,419.97 L345.77,420.21 L346.49,419.50 L346.67,419.79 L346.60,419.07 L347.69,419.33 L347.67,419.48 L348.27,418.46 L348.37,419.31 L348.47,418.64 L348.45,417.57 L348.87,417.06 L349.53,417.49 L348.98,415.92 L348.97,416.49 L349.30,415.13 L349.22,414.34 L349.43,414.25 L349.41,414.58 L350.14,413.00 L350.17,412.87 L350.20,412.65 L349.67,411.69 L350.08,411.86 L350.38,411.08 L350.07,410.88 L350.82,409.82 L350.26,409.60 L350.32,409.28 L350.19,409.03 L350.82,408.65 L351.30,407.44 L350.67,406.83 L351.07,406.05 L351.30,406.66 L351.53,405.65 L351.09,404.70 L351.88,405.07 L351.68,404.59 L351.45,404.34 L351.91,404.14 L351.63,402.70 L351.68,402.99 L352.33,401.50 L352.04,401.60 L352.54,401.35 L352.03,399.99 L352.17,400.37 L352.70,401.59 L352.46,402.36 L352.52,402.42 L352.87,402.71 L352.92,404.04 L352.80,403.50 L352.68,404.97 L353.16,405.69 L353.14,405.94 L353.26,406.28 L353.13,405.96 L353.10,407.35 L352.59,407.18 L353.44,408.18 L352.86,408.17 L352.80,408.59 L353.77,409.78 L353.20,410.46 L352.96,410.80 L353.43,410.59 L353.95,408.91 L353.80,408.69 L354.18,408.15 L354.77,408.48 L355.00,407.27 L354.58,406.96 L354.91,407.34 L355.36,406.46 L355.81,405.86 L356.29,405.84 L356.41,406.79 L357.09,405.56 L357.24,405.56 L357.21,406.18 L358.33,406.50 L358.11,405.98 L358.42,405.42 L358.83,404.51 L358.88,405.30 L358.49,404.79 L358.33,404.39 L358.51,403.11 L359.21,402.62 L359.08,402.59 L358.91,401.54 L359.12,401.19 L359.73,400.39 L359.52,400.48 L359.92,399.49 L359.52,399.00 L360.07,399.13 L360.20,399.35 L360.46,398.82 L360.32,397.95 L359.83,396.31 L360.63,395.74 L360.44,396.49 L360.21,395.20 L360.60,394.53 L360.31,395.51 L360.24,393.33 L361.12,393.40 L360.70,393.73 L360.38,391.96 L361.21,391.57 L361.60,392.59 L361.52,393.82 L361.70,393.47 L361.05,393.29 L361.64,394.51 L361.50,394.31 L362.38,394.42 L362.56,396.08 L362.15,396.99 L362.23,396.99 L362.88,397.57 L362.12,396.83 L362.89,397.41 L362.47,397.28 L363.54,397.65 L362.93,396.61 L363.68,396.94 L363.65,395.09 L364.49,395.66 L364.43,395.00 L364.19,394.09 L364.56,394.94 L365.00,393.09 L364.86,392.75 L365.60,392.98 L366.03,392.93 L365.61,392.20 L365.89,392.35 L366.59,391.52 L367.24,391.52 L367.47,390.35 L367.57,390.81 L368.37,389.42 L367.70,389.90 L369.06,388.85 L368.68,388.46 L369.47,389.15 L369.55,389.31 L368.97,388.64 L369.95,390.86 L369.25,389.56 L370.43,390.40 L370.30,390.82 L370.42,392.58 L370.16,393.01 L370.06,392.07 L370.26,393.65 L371.05,394.53 L371.26,393.60 L371.04,394.05 L371.45,394.43 L371.70,396.31 L371.74,395.23 L371.81,396.69 L371.69,397.08 L372.00,397.73 L371.28,397.33 L371.65,398.62 L371.45,398.85 L371.58,399.93 L372.54,400.56 L372.04,399.52 L372.39,399.44 L372.54,398.65 L373.27,399.18 L373.03,397.70 L374.11,397.94 L373.54,397.74 L374.02,396.50 L374.10,396.78 L375.28,396.10 L374.45,395.98 L374.85,395.15 L375.67,396.64 L375.79,396.74 L376.24,396.94 L376.86,397.76 L376.93,398.32 L377.19,399.05 L376.51,399.13 L377.62,399.48 L377.86,399.47 L378.13,399.47 L378.09,400.33 L377.86,400.43 L378.09,401.01 L378.43,401.01 L378.87,402.89 L379.10,403.28 L379.46,403.58 L378.81,403.91 L379.07,403.56 L379.00,403.66 L379.84,405.52 L379.80,405.09 L380.04,406.27 L379.78,406.76 L380.21,406.15 L380.12,406.94 L380.14,407.49 L379.92,407.96 L380.61,406.82 L381.08,406.37 L381.23,405.70 L381.47,405.69 L380.85,404.27 L381.75,404.12 L381.25,403.21 L382.40,404.17 L382.19,403.11 L382.84,403.76 L383.29,403.68 L383.14,402.69 L383.74,402.80 L383.42,403.56 L383.96,405.24 L384.11,405.10 L384.28,405.58 L383.76,405.58 L383.84,405.67 L384.11,406.60 L384.61,406.68 L384.95,408.47 L385.17,407.86 L384.62,408.18 L385.07,408.84 L385.24,409.89 L385.22,410.28 L385.81,410.92 L385.83,411.11 L386.37,411.44 L387.29,411.81 L387.09,411.87 L387.34,411.23 L387.65,412.88 L388.41,412.86 L388.34,413.20 L388.60,412.78 L389.08,414.40 L389.47,414.32 L389.17,414.11 L390.15,414.21 L390.46,414.78 L390.42,415.51 L390.68,415.59 L390.44,415.29 L390.37,415.21 L391.22,414.35 L390.98,413.94 L391.00,414.17 L391.17,412.88 L391.49,412.69 L391.77,412.61 L391.60,413.35 L392.65,413.46 L392.10,413.25 L392.44,413.96 L393.29,414.40 L392.95,414.29 L393.27,415.25 L393.79,415.31 L393.67,415.57 L394.21,415.44 L394.43,415.79 L394.23,414.10 L394.71,414.59 L395.24,414.31 L394.52,413.83 L395.07,413.50 L394.85,412.00 L395.03,412.46 L395.22,410.84 L395.55,411.62 L395.29,410.88 L395.68,409.99 L396.17,409.15 L395.75,408.92 L396.26,409.40 L395.91,407.70 L396.58,407.96 L396.67,406.51 L396.88,407.16 L396.98,405.89 L397.28,406.01 L397.58,404.81 L397.65,405.61 L397.72,405.47 L397.98,405.54 L398.88,404.46 L398.80,405.54 L399.21,404.45 L399.45,405.27 L400.22,405.35 L400.54,406.43 L400.40,406.61 L400.81,406.47 L400.44,407.29 L401.06,408.18 L401.23,408.62 L400.56,409.28 L400.67,410.07 L401.06,410.79 L401.70,410.09 L401.27,410.70 L401.66,411.20 L401.49,411.20 L402.07,411.87 L401.98,412.11 L401.95,412.95 L402.38,413.82 L402.09,413.64 L402.98,414.04 L402.33,414.51 L402.94,415.47 L402.60,416.41 L402.88,415.92 L403.34,416.84 L403.93,417.02 L404.08,417.79 L403.68,418.62 L403.93,418.14 L404.54,416.44 L403.78,416.04 L404.17,415.83 L404.86,416.31 L404.64,415.07 L405.04,415.21 L404.86,414.47 L404.71,413.23 L405.17,413.54 L405.61,413.28 L405.02,413.05 L405.85,411.28 L405.24,411.54 L405.43,411.25 L405.66,410.11 L406.11,410.07 L406.30,408.93 L406.15,409.30 L406.62,408.91 L406.41,407.43 L406.78,407.99 L406.36,407.48 L407.12,407.51 L406.87,405.91 L406.77,406.59 L407.69,405.26 L407.03,406.50 L407.27,406.70 L407.80,407.05 L407.34,406.68 L407.49,407.28 L407.46,407.47 L407.86,408.51 L408.13,408.47 L408.23,410.25 L408.47,409.83 L408.03,410.42 L407.98,410.95 L408.23,411.70 L409.15,411.71 L409.13,412.76 L409.03,413.04 L409.47,413.60 L409.57,412.51 L409.35,412.31 L410.00,412.72 L410.58,412.42 L410.19,411.68 L410.84,410.48 L410.87,411.19 L410.90,409.86 L411.76,410.44 L411.45,410.62 L412.10,411.44 L411.57,412.92 L412.66,412.07 L412.03,413.75 L412.57,413.25 L412.63,413.66 L412.63,414.32 L412.62,414.14 L412.80,414.72 L413.79,415.63 L414.29,415.38 L414.24,416.29 L414.49,416.22 L415.26,417.08 L415.26,416.12 L415.89,417.27 L416.13,417.04 L417.10,416.90 L417.28,415.66 L417.80,415.54 L418.29,416.14 L418.00,415.08 L418.86,415.43 L418.78,415.06 L418.97,416.06 L419.39,416.50 L419.84,416.35 L420.42,417.10 L420.70,416.78 L420.56,417.41 L421.23,418.35 L421.71,418.69 L421.42,418.50 L421.74,418.84 L422.07,417.87 L423.03,418.43 L423.53,418.08 L423.26,417.90 L424.04,416.97 L424.30,416.33 L424.12,416.09 L424.59,416.40 L425.67,416.70 L425.30,416.41 L425.89,416.30 L426.04,417.21 L426.50,417.84 L426.38,418.28 L426.94,417.69 L427.11,418.61 L427.37,419.22 L427.91,419.11 L428.48,420.00 L428.46,419.91 L429.22,421.00 L428.72,420.96 L429.65,420.49 L429.49,420.00 L430.75,420.67 L430.74,419.29 L431.00,419.69 L431.85,418.69 L431.97,419.38 L432.34,418.20 L433.31,417.96 L433.08,417.64 L433.35,418.37 L433.63,417.82 L434.43,418.25 L434.43,419.50 L435.36,418.96 L435.29,419.65 L435.55,419.60 L435.78,421.07 L436.73,420.48 L437.31,421.57 L437.78,421.28 L437.57,421.70 L438.39,421.78 L438.26,422.38 L439.47,421.94 L439.75,422.09 L439.64,422.64 L440.27,422.79 L440.43,423.53 L441.05,423.15 L441.90,422.08 L441.83,422.10 L442.89,421.99 L443.11,422.37 L443.75,421.07 L444.01,421.37 L443.60,421.36 L444.21,420.76 L443.90,419.52 L444.02,419.20 L443.92,418.74 L444.83,418.06 L444.70,417.84 L444.95,418.03 L445.24,416.68 L445.45,416.99 L445.35,416.42 L444.99,416.07 L445.25,415.39 L445.14,415.18 L445.47,414.29 L445.61,414.23 L446.25,413.80 L445.74,413.42 L446.55,413.07 L446.65,412.25 L447.07,410.89 L446.86,411.19 L447.39,410.45 L447.68,410.67 L447.34,409.38 L447.29,409.00 L447.41,408.68 L447.82,408.96 L447.85,407.41 L448.19,408.01 L448.60,407.14 L449.22,408.15 L448.94,407.88 L448.83,409.26 L449.16,409.75 L449.35,409.34 L448.62,410.22 L449.41,410.72 L449.11,411.10 L449.57,411.44 L448.94,412.29 L449.15,412.33 L449.54,413.68 L449.81,412.96 L449.54,413.32 L449.72,414.37 L449.16,414.85 L449.93,415.47 L449.53,416.33 L449.96,416.02 L449.50,417.31 L450.31,417.90 L449.77,417.77 L450.36,418.63 L449.80,418.43 L450.27,419.09 L450.15,419.38 L450.43,419.34 L450.87,418.39 L450.65,419.09 L450.45,418.35 L450.97,418.04 L451.45,417.37 L451.67,416.36 L450.95,415.68 L451.97,415.62 L452.19,415.72 L452.34,414.71 L451.72,414.31 L452.54,413.95 L452.50,413.19 L452.46,412.58 L452.99,412.45 L452.86,412.15 L453.39,411.10 L454.10,411.79 L453.89,410.71 L454.09,410.76 L455.12,410.52 L455.09,409.55 L455.59,410.70 L455.89,411.04 L456.35,410.75 L455.89,412.08 L456.62,412.47 L456.58,411.57 L457.53,412.98 L457.65,412.39 L458.53,413.47 L458.63,413.40 L458.40,413.63 L458.88,413.11 L459.05,413.37 L459.23,412.31 L459.48,411.79 L460.06,411.73 L460.31,411.13 L461.08,411.11 L461.46,410.97 L461.11,410.74 L461.47,410.70 L461.81,409.86 L463.13,410.45 L462.92,409.79 L463.33,409.61 L463.78,409.80 L464.67,408.77 L464.13,409.75 L465.21,410.50 L465.44,410.09 L465.54,411.27 L465.77,410.88 L466.48,411.39 L467.10,412.00 L466.85,411.46 L467.61,412.84 L467.84,412.79 L468.44,412.76 L468.23,413.40 L468.28,413.21 L469.30,414.57 L469.13,412.97 L469.61,413.27 L470.32,412.75 L470.27,412.38 L470.68,412.88 L470.68,411.87 L471.27,411.38 L471.22,411.62 L471.66,410.66 L472.50,410.29 L472.16,410.21 L473.03,409.55 L473.32,409.50 L473.24,409.50 L474.29,409.77 L474.13,410.11 L474.60,410.19 L475.49,411.40 L476.14,411.87 L476.55,411.55 L476.98,411.08 L476.66,411.79 L477.76,412.46 L477.45,411.75 L478.58,412.29 L479.26,411.70 L478.79,410.70 L479.21,410.64 L480.29,411.33 L480.28,410.26 L481.19,410.18 L482.02,410.74 L482.49,410.09 L482.06,409.77 L482.08,409.06 L483.03,409.72 L482.36,408.88 L482.52,407.64 L483.30,407.47 L483.26,406.58 L482.91,407.12 L483.88,406.30 L483.70,406.09 L484.03,406.14 L483.99,404.84 L484.65,406.22 L484.50,406.60 L484.27,405.80 L484.98,406.60 L485.26,406.43 L485.14,408.06 L485.60,407.28 L485.63,408.33 L485.87,408.99 L486.27,409.16 L486.65,410.26 L486.43,410.01 L486.80,409.91 L487.74,410.97 L488.18,411.06 L488.46,411.63 L488.94,410.90 L489.20,411.08 L489.86,411.20 L489.74,411.73 L490.00,412.42 L491.15,412.48 L491.61,411.38 L492.22,412.06 L492.20,412.13 L492.32,412.69 L492.80,412.51 L493.16,412.12 L493.84,413.34 L494.01,413.48 L494.75,413.83 L494.94,413.27 L495.02,414.52 L495.43,414.77 L496.42,414.72 L496.67,415.95 L496.42,415.65 L496.77,416.61 L497.05,416.55 L497.30,416.90 L496.66,417.43 L496.86,418.23 L496.95,418.56 L497.59,419.40 L497.37,419.50 L497.78,419.78 L498.67,419.10 L498.81,418.64 L499.64,418.54 L499.32,419.46 L500.20,418.72 L500.92,418.90 L501.40,418.77 L500.91,418.94 L501.17,420.16 L501.82,419.70 L501.78,420.28 L502.36,421.44 L502.42,421.63 L502.68,422.18 L503.33,422.54 L503.76,423.00 L503.76,422.97 L503.90,423.65 L504.56,423.09 L504.57,424.38 L504.38,424.71 L505.15,424.75 L505.47,425.77 L505.47,425.18 L505.55,425.34 L505.65,424.53 L506.32,424.58 L506.55,424.00 L507.26,424.03 L507.04,423.74 L507.58,423.79 L508.28,424.35 L508.04,423.78 L507.99,425.28 L508.06,425.23 L508.09,425.06 L508.30,425.64 L508.69,426.72 L508.94,427.57 L509.31,427.34 L509.07,428.13 L509.32,428.86 L509.39,428.74 L509.86,429.14 L509.99,429.54 L509.26,429.80 L509.57,430.83 L509.63,431.24 L510.25,432.08 L510.61,432.37 L510.52,433.17 L510.06,433.33 L510.67,432.18 L510.79,432.78 L510.75,431.92 L511.78,431.33 L511.94,431.10 L511.61,430.03 L512.41,429.79 L512.73,429.28 L512.91,429.05 L512.64,428.92 L513.17,429.27 L513.33,428.77 L514.62,428.75 L514.86,427.72 L514.78,427.73 L515.53,428.24 L516.11,429.33 L516.05,429.77 L515.91,429.78 L516.55,430.26 L517.14,430.24 L516.74,430.52 L517.03,430.82 L517.89,431.70 L517.90,431.62 L518.23,432.48 L518.50,432.70 L518.35,432.67 L518.79,433.52 L519.07,434.28 L519.26,433.93 L519.66,432.72 L519.73,432.62 L519.81,432.61 L520.55,432.09 L520.44,431.43 L520.72,431.54 L520.44,430.28 L520.86,429.74 L521.33,429.33 L521.49,429.84 L522.52,430.06 L522.28,429.88 L522.89,430.08 L523.70,430.89 L523.68,430.47 L524.10,430.16 L525.03,431.19 L525.43,430.61 L525.75,430.70 L525.81,431.22 L526.78,431.87 L526.72,431.81 L527.37,432.19 L527.49,432.38 L527.84,432.84 L528.61,432.29 L528.60,432.69 L529.66,433.65 L529.29,433.69 L529.52,434.47 L530.19,434.60 L529.99,435.06 L530.59,435.10 L531.18,436.48 L531.08,435.98 L531.08,436.80 L531.60,437.41 L531.69,437.97 L532.40,438.51 L532.10,438.47 L532.54,438.56 L533.47,438.83 L534.15,438.80 L534.38,438.35 L533.92,438.62 L533.92,437.66 L534.55,437.44 L534.57,436.72 L534.64,436.25 L534.92,435.68 L534.13,435.36 L534.81,434.52 L534.79,434.86 L535.04,433.61 L534.43,433.74 L534.97,432.89 L534.47,431.99 L535.26,431.90 L534.82,432.13 L535.28,431.56 L535.16,431.03 L535.26,430.67 L535.24,430.17 L535.25,428.82 L535.14,428.67 L535.35,428.06 L535.14,427.83 L535.45,426.98 L535.42,426.77 L535.26,426.48 L535.39,425.84 L535.92,426.59 L535.89,427.07 L536.40,426.89 L536.03,427.67 L536.19,427.87 L536.70,428.83 L536.76,429.03 L536.64,429.18 L536.65,429.82 L537.19,430.28 L536.83,431.17 L537.48,431.07 L537.52,432.01 L537.67,432.45 L537.36,431.62 L537.58,431.28 L538.26,431.53 L538.90,430.77 L538.49,430.49 L538.62,429.53 L539.44,429.63 L539.35,428.84 L539.70,428.15 L540.32,428.24 L540.54,427.98 L540.38,427.06 L541.14,426.48 L540.56,426.78 L541.43,427.37 L541.06,428.51 L541.74,428.97 L541.28,428.94 L541.62,429.80 L542.26,429.51 L541.98,430.35 L542.02,430.99 L542.32,430.80 L542.15,431.67 L542.99,432.13 L543.09,432.55 L542.83,433.34 L543.72,432.53 L543.85,433.02 L544.81,432.42 L544.73,433.05 L545.50,432.54 L545.49,432.10 L546.40,432.39 L546.65,432.97 L546.76,432.73 L547.31,433.22 L548.10,433.55 L548.54,433.57 L548.80,433.98 L548.94,434.27 L548.83,434.69 L549.87,435.41 L550.30,435.05 L550.94,435.46 L550.88,435.20 L551.55,435.58 L552.19,436.34 L552.26,436.29 L552.48,436.74 L553.50,436.37 L554.16,436.75 L554.17,436.58 L554.26,436.79 L554.81,436.75 L555.58,437.11 L555.94,437.33 L556.61,437.60 L556.55,437.47 L557.05,436.57 L557.60,436.01 L557.85,435.42 L557.61,435.15 L558.03,435.00 L557.85,434.23 L558.33,434.53 L558.81,433.20 L558.75,433.23 L559.59,433.33 L559.59,433.66 L559.93,434.64 L560.14,434.36 L560.96,434.96 L561.12,435.04 L561.66,434.40 L561.91,434.23 L562.04,433.73 L561.80,432.94 L562.42,433.55 L562.46,432.83 L562.41,432.19 L563.02,431.45 L562.89,431.62 L563.11,431.93 L563.47,432.27 L563.93,432.52 L564.10,432.94 L564.85,433.23 L564.91,433.22 L565.45,434.18 L565.98,434.48 L565.83,434.81 L566.69,435.04 L566.87,434.74 L566.86,434.10 L567.45,434.32 L567.07,433.56 L567.26,433.09 L568.34,433.01 L567.98,432.36 L568.15,432.07 L568.71,431.62 L569.29,430.28 L569.50,430.33 L569.49,430.22 L569.46,430.02 L569.85,429.66 L570.11,428.25 L570.13,427.89 L570.44,428.15 L570.86,427.19 L571.70,426.93 L571.92,427.29 L571.79,426.99 L571.91,426.36 L572.66,426.12 L572.38,425.49 L573.30,424.29 L573.35,425.16 L573.27,425.85 L573.92,425.94 L574.26,426.35 L575.07,425.93 L575.22,426.34 L575.12,427.30 L575.60,427.43 L575.86,426.65 L576.42,427.31 L576.96,426.56 L577.61,425.75 L578.14,426.41 L577.94,425.72 L578.84,425.49 L578.96,425.65 L579.14,425.27 L579.86,425.54 L580.57,424.81 L580.62,423.94 L580.81,423.64 L580.42,422.83 L580.72,423.03 L580.92,422.21 L580.90,421.52 L581.35,420.75 L581.49,420.59 L581.38,420.49 L581.03,420.10 L581.30,419.82 L581.89,419.45 L582.02,418.72 L582.00,417.90 L581.63,418.13 L581.96,416.47 L581.81,416.55 L582.62,415.66 L582.03,415.40 L582.56,414.62 L582.57,414.14 L582.64,414.15 L583.14,414.57 L583.35,414.35 L582.57,415.08 L583.21,416.34 L582.97,416.49 L583.17,417.29 L583.20,417.68 L583.72,417.93 L583.67,418.13 L583.93,418.18 L583.57,419.49 L584.24,419.77 L584.45,419.64 L583.80,421.12 L583.95,420.77 L584.06,421.25 L584.33,422.02 L584.64,422.24 L585.05,422.80 L584.53,423.72 L584.54,423.55 L584.73,423.19 L585.46,423.17 L585.03,423.07 L585.64,421.34 L585.91,421.34 L585.42,420.82 L586.13,419.91 L585.74,420.00 L586.16,419.41 L585.98,419.45 L586.01,418.08 L586.11,418.56 L586.36,417.76 L586.47,416.99 L586.56,416.20 L586.19,416.58 L587.08,415.39 L586.32,415.77 L587.03,414.78 L587.13,415.50 L587.21,414.90 L587.89,416.13 L588.06,415.83 L588.33,416.87 L588.38,416.41 L588.78,417.24 L588.58,417.67 L588.99,418.53 L589.18,418.26 L589.83,417.49 L589.92,416.46 L590.29,415.96 L590.24,415.46 L589.87,415.50 L590.35,415.10 L590.14,414.69 L590.48,414.41 L590.73,414.61 L590.74,413.41 L590.99,413.75 L591.67,412.85 L591.76,412.04 L591.33,411.44 L591.89,410.65 L591.86,411.45 L592.65,410.36 L592.25,409.68 L592.75,409.61 L593.46,409.81 L593.33,408.30 L593.01,408.14 L594.14,407.75 L594.02,407.09 L593.70,407.29 L593.97,407.19 L594.82,405.77 L594.69,404.89 L595.01,404.62 L594.89,404.00 L595.04,403.89 L595.38,403.24 L595.73,403.75 L596.44,404.07 L596.66,402.97 L596.87,403.75 L597.33,403.42 L598.08,403.58 L598.98,402.84 L598.53,401.84 L599.18,403.30 L598.94,403.83 L598.94,403.95 L599.13,404.34 L599.24,405.07 L599.69,405.06 L599.95,405.24 L599.44,406.38 L599.82,406.27 L600.13,407.36 L599.90,407.65 L599.85,408.93 L600.58,409.55 L600.72,410.05 L600.68,409.42 L600.15,410.44 L600.69,411.50 L600.69,411.70 L601.09,411.11 L600.57,411.74 L600.59,412.87 L601.42,412.26 L601.68,411.34 L601.80,410.96 L602.32,411.39 L602.13,410.10 L602.64,411.09 L602.93,409.90 L603.61,409.93 L603.57,409.48 L604.00,408.97 L604.76,408.00 L604.89,408.82 L604.82,408.44 L604.84,407.77 L605.59,407.20 L605.97,407.08 L605.63,406.56 L606.10,405.99 L606.24,404.81 L607.00,405.16 L607.07,404.81 L606.78,403.29 L607.09,403.51 L607.07,402.67 L607.82,401.91 L608.05,401.56 L608.15,401.28 L607.62,400.77 L607.43,400.46 L607.92,400.07 L608.54,398.90 L607.70,399.05 L608.04,399.59 L607.91,397.92 L608.75,397.19 L608.62,397.56 L608.47,396.52 L608.66,397.32 L609.51,397.74 L609.75,396.61 L609.88,396.82 L610.15,398.57 L610.56,398.50 L610.54,398.21 L610.67,398.78 L611.29,399.04 L611.65,400.07 L611.74,400.55 L612.25,401.42 L612.01,401.21 L612.54,401.81 L612.98,400.44 L614.10,401.44 L614.30,401.34 L614.90,401.83 L615.04,401.01" fill="none" stroke="#13305E" stroke-width="1.9" stroke-linejoin="round" stroke-linecap="round"/>
<path d="M615.04,401.01 L615.36,401.53 L616.17,400.45 L616.25,401.62 L617.42,401.41 L616.80,400.03 L617.21,400.19 L618.12,400.51 L618.09,399.21 L617.61,399.07 L617.81,399.21 L618.30,397.22 L618.53,396.66 L619.24,396.90 L619.32,396.45 L619.23,396.64 L619.11,395.24 L619.40,395.23 L619.72,395.06 L620.03,394.03 L619.77,394.79 L619.69,393.14 L619.88,392.24 L620.91,392.37 L621.20,392.41 L620.91,392.21 L620.40,391.28 L620.83,390.45 L620.74,390.43 L621.24,389.82 L621.42,389.27 L621.94,388.07 L621.93,388.93 L622.07,387.16 L622.67,388.14 L621.71,387.47 L622.58,387.24 L623.02,385.61 L623.14,386.22 L622.90,384.63 L622.72,384.42 L623.24,384.72 L623.28,383.40 L623.45,384.12 L623.58,383.63 L623.07,383.32 L623.83,381.79 L624.46,381.86 L624.01,381.18 L624.21,380.74 L624.84,380.42 L624.22,378.53 L624.04,379.84 L624.14,379.20 L625.19,378.44 L624.82,377.12 L625.35,376.63 L625.36,376.79 L625.47,375.90 L625.84,376.76 L625.33,376.29 L625.63,374.89 L626.26,374.05 L626.10,373.21 L626.69,374.03 L626.02,371.92 L626.96,372.48 L626.98,371.28 L626.76,371.32 L626.31,372.02 L626.55,370.23 L626.86,369.32 L627.33,370.11 L627.73,368.34 L627.07,368.73 L628.02,368.97 L628.29,367.13 L627.57,368.01 L628.36,365.67 L627.46,367.06 L628.29,366.43 L628.38,365.63 L627.80,365.95 L628.53,365.11 L628.27,363.40 L628.49,363.78 L627.82,363.01 L628.17,361.77 L628.57,360.99 L627.85,362.29 L628.39,361.34 L628.53,359.47 L627.99,360.52 L627.98,358.41 L628.22,359.55 L627.88,359.16 L628.13,356.94 L627.92,358.34 L628.65,355.86 L628.57,355.41 L628.09,354.89 L628.86,355.84 L628.38,354.71 L628.27,353.26 L628.82,353.30 L628.84,353.99 L628.76,353.04 L628.40,351.51 L628.30,351.44 L628.24,352.08 L628.35,350.53 L628.79,351.42 L628.51,349.94 L629.20,350.59 L628.77,348.87 L628.42,349.45 L628.26,347.38 L629.08,347.52 L628.70,346.11 L628.78,347.83 L629.23,345.72 L628.69,346.58 L629.03,344.03 L629.39,345.19 L628.68,344.48 L628.67,343.60 L628.91,342.92 L629.46,343.69 L628.97,343.24 L628.58,342.85 L629.20,342.24 L628.95,341.62 L628.51,341.45 L629.48,340.57 L629.52,339.74 L629.45,339.78 L629.07,340.97 L629.56,340.70 L628.73,342.65 L628.91,343.81 L629.17,342.65 L629.76,343.68 L629.48,345.16 L628.87,344.08 L629.39,343.77 L629.32,345.63 L629.31,347.18 L629.34,345.98 L629.99,345.99 L629.54,347.58 L629.21,347.63 L629.52,347.83 L630.13,348.66 L629.23,349.44 L629.20,348.61 L629.97,349.85 L629.34,351.73 L629.61,351.94 L629.74,351.80 L629.19,351.03 L629.95,353.11 L630.24,352.88 L629.52,354.48 L629.83,353.08 L629.45,355.05 L629.78,354.01 L630.09,354.49 L629.56,356.45 L629.52,356.50 L629.47,356.35 L629.81,358.39 L629.69,358.64 L630.01,359.35 L629.78,359.47 L629.55,359.74 L630.14,361.22 L630.11,360.66 L629.76,360.12 L630.38,360.92 L629.92,360.90 L630.34,363.42 L629.78,363.56 L630.27,362.91 L630.31,363.56 L630.37,364.17 L630.45,365.19 L629.94,366.63 L629.51,367.12 L629.54,367.36 L629.99,367.09 L629.91,368.10 L630.49,367.31 L630.47,368.58 L629.62,368.94 L629.85,370.06 L629.61,369.88 L630.42,369.91 L630.40,371.52 L630.52,371.30 L629.91,372.29 L630.39,372.49 L629.92,373.40 L630.11,372.99 L630.15,372.03 L630.45,372.93 L630.66,371.22 L630.72,370.60 L629.96,370.18 L630.49,369.92 L630.96,369.47 L630.27,370.48 L630.79,369.57 L630.29,368.66 L631.16,369.05 L630.44,366.44 L630.31,366.65 L631.18,366.41 L631.13,364.98 L630.17,365.15 L630.51,366.03 L630.35,363.95 L630.39,363.82 L630.57,362.89 L630.84,363.33 L630.96,362.20 L631.23,362.82 L631.49,361.31 L631.09,361.89 L630.84,360.65 L631.53,359.34 L630.62,359.99 L631.59,360.28 L631.40,357.62 L631.23,357.63 L631.03,358.60 L631.44,357.29 L631.42,356.05 L631.88,356.13 L631.58,355.05 L631.09,354.20 L630.96,353.90 L631.02,354.44 L630.96,354.62 L631.90,353.70 L631.16,351.95 L631.56,354.03 L631.49,354.91 L632.33,354.03 L632.43,354.36 L631.60,356.18 L632.58,355.78 L632.56,355.18 L632.54,357.27 L631.85,357.30 L631.95,358.64 L632.78,358.67 L632.83,357.99 L633.00,358.68 L633.27,358.28 L633.16,359.59 L633.22,360.28 L632.95,360.36 L632.94,360.18 L633.43,360.80 L632.96,362.70 L633.64,363.88 L632.65,364.32 L633.47,364.21 L632.67,364.46 L633.23,365.68 L633.73,365.40 L632.84,365.15 L633.17,367.12 L633.06,365.58 L633.84,368.24 L633.18,366.94 L633.85,368.98 L633.26,368.75 L634.29,368.86 L633.70,368.42 L634.45,369.03 L634.44,369.62 L634.23,371.74 L634.23,370.46 L634.04,371.93 L634.11,371.66 L633.71,373.57 L634.10,374.21 L633.94,372.40 L634.49,372.33 L634.83,372.08 L634.44,371.45 L634.14,372.02 L634.33,369.37 L634.14,369.54 L634.09,369.28 L634.68,369.91 L634.99,369.33 L635.12,368.50 L635.14,367.04 L634.99,366.33 L635.31,366.72 L634.85,365.25 L635.45,366.27 L634.69,366.13 L634.73,363.86 L635.55,364.56 L635.65,363.90 L635.44,363.09 L635.60,363.56 L635.58,362.44 L635.84,361.56 L635.14,361.26 L635.55,360.41 L635.77,359.94 L635.91,359.42 L636.23,359.24 L636.24,360.22 L637.34,357.55 L637.35,358.13 L637.60,358.27 L637.52,357.06 L638.76,358.15 L638.32,356.23 L637.96,355.86 L639.03,356.80 L638.46,354.71 L639.24,355.38 L638.88,354.34 L639.50,353.27 L639.70,354.39 L639.52,352.03 L639.79,353.77 L639.24,351.96 L640.07,350.47 L640.30,350.02 L640.02,351.08 L640.71,351.20 L639.84,350.02 L640.35,349.48 L641.09,348.12 L640.25,348.91 L640.65,347.13 L640.76,347.56 L641.48,346.74 L641.72,346.40 L642.35,347.14 L641.96,349.11 L642.06,348.55 L643.03,348.38 L643.05,349.32 L643.15,348.09 L643.33,349.94 L643.98,349.76 L643.98,351.77 L644.18,350.59 L644.54,351.13 L644.03,351.30 L644.93,352.50 L644.19,352.29 L644.34,352.69 L644.67,353.68 L644.80,355.23 L644.92,355.00 L645.64,356.22 L645.79,355.84 L645.97,355.88 L645.74,356.08 L645.37,355.24 L646.22,354.15 L646.12,354.23 L646.03,354.00 L645.73,352.88 L646.46,352.73 L645.76,352.77 L646.40,352.72 L646.31,350.60 L647.11,350.48 L646.63,350.87 L646.71,349.61 L646.90,349.21 L647.55,350.06 L647.71,349.33 L646.83,348.73 L646.94,346.65 L647.43,346.73 L647.54,347.73 L647.18,346.21 L647.84,347.19 L647.04,345.00 L647.34,346.23 L647.22,345.39 L647.56,344.39 L647.53,344.54 L647.46,341.92 L648.45,343.36 L648.14,342.43 L647.69,340.96 L648.60,339.94 L648.20,339.33 L647.74,339.69 L648.68,339.44 L647.81,338.43 L648.44,339.01 L647.92,338.20 L647.89,338.74 L648.09,336.28 L648.43,336.75 L648.79,336.38 L648.53,336.86 L649.03,333.95 L648.47,333.39 L648.87,333.26 L648.35,334.61 L649.28,332.72 L648.44,333.38 L649.32,332.88 L648.61,331.59 L648.87,331.84 L648.74,329.81 L648.75,330.11 L649.32,329.58 L649.20,329.58 L648.88,329.83 L649.95,327.95 L649.99,329.06 L649.59,328.28 L649.69,327.86 L649.36,325.36 L650.15,324.80 L649.65,324.99 L649.33,325.15 L650.22,325.17 L650.37,324.96 L649.54,323.00 L650.25,323.87 L649.88,322.18 L650.52,321.02 L650.55,321.47 L650.01,320.61 L650.57,320.65 L650.15,321.32 L650.27,320.24 L650.75,320.28 L650.32,318.82 L651.00,317.44 L650.36,318.62 L650.28,315.85 L650.14,318.16 L650.78,317.18 L650.85,315.87 L650.91,314.91 L651.39,313.38 L650.50,312.93 L651.14,314.27 L651.25,314.21 L650.52,314.12 L650.79,310.62 L650.73,312.64 L651.52,311.33 L651.27,309.60 L651.58,311.56 L651.30,309.40 L651.92,308.50 L651.63,309.68 L651.73,307.59 L651.86,307.71 L652.00,306.80 L651.53,307.38 L652.00,306.47 L652.23,305.86 L652.20,303.59 L651.75,305.50 L651.38,305.47 L652.11,303.22 L651.74,304.39 L652.12,304.48 L651.53,300.72 L652.11,300.32 L651.78,300.67 L651.61,300.61 L652.56,301.72 L652.13,300.00 L652.38,298.64 L652.89,298.29 L652.65,299.94 L651.93,299.00 L652.32,296.03 L652.47,295.54 L653.02,298.11 L652.35,297.53 L652.17,294.41 L652.27,294.11 L652.63,294.53 L653.00,294.56 L652.75,293.80 L653.27,293.81 L653.07,293.25 L652.91,291.85 L653.19,289.82 L652.91,291.43 L653.80,291.84 L653.79,291.33 L653.08,289.50 L653.82,288.21 L653.12,290.36 L653.48,286.25 L653.83,287.03 L654.18,285.66 L654.32,286.01 L653.66,285.49 L654.51,284.42 L654.40,285.48 L654.13,283.02 L654.72,285.05 L653.72,285.33 L654.85,282.71 L654.86,282.84 L653.81,281.28 L654.15,283.43 L654.33,281.47 L655.08,281.05 L655.07,281.98 L655.06,278.84 L654.64,277.43 L654.51,280.52 L654.94,278.78 L655.13,278.77 L654.43,280.86 L654.44,282.37 L654.81,282.00 L654.52,280.38 L655.42,284.13 L655.45,282.56 L655.65,284.99 L654.90,283.82 L655.79,284.26 L655.45,285.55 L655.18,286.46 L655.74,285.88 L655.79,285.03 L655.44,284.87 L655.01,287.41 L655.40,289.19 L655.41,286.94 L655.46,288.94 L655.10,287.26 L655.18,290.36 L656.03,289.17 L656.16,291.88 L655.14,289.86 L655.89,292.47 L655.23,291.54 L655.53,292.27 L656.46,293.33 L655.42,292.45 L655.49,294.69 L655.93,293.49 L655.83,296.71 L656.05,294.80 L656.00,294.75 L655.94,297.15 L655.81,297.98 L656.38,296.01 L656.76,297.74 L656.60,297.01 L656.19,299.48 L656.53,298.06 L656.41,300.74 L656.71,300.23 L656.45,301.18 L656.54,300.20 L657.11,301.94 L656.75,303.95 L656.40,302.14 L657.06,303.66 L657.05,302.83 L656.74,305.87 L656.84,306.15 L657.41,305.65 L656.83,304.61 L656.54,307.73 L657.08,305.92 L657.31,307.88 L657.41,308.98 L656.74,306.35 L657.22,306.95 L657.38,306.43 L657.04,307.96 L657.34,308.22 L657.32,308.08 L657.58,306.44 L657.92,304.74 L657.33,303.36 L658.13,303.94 L657.17,304.06 L657.90,302.88 L657.35,304.13 L657.73,303.54 L657.81,302.17 L658.54,301.38 L658.50,302.55 L658.29,301.42 L657.54,298.86 L658.35,300.77 L657.96,299.58 L658.74,297.81 L657.71,298.25 L658.15,297.08 L658.95,295.62 L658.80,298.08 L658.37,294.40 L658.79,294.28 L658.91,296.28 L658.16,295.72 L658.17,292.44 L659.10,294.92 L658.43,293.26 L658.34,294.00 L658.25,291.58 L658.79,293.47 L659.30,292.21 L659.57,291.03 L659.54,291.24 L658.58,291.44 L658.80,290.17 L658.98,288.11 L658.69,290.07 L658.82,287.53 L659.31,289.12 L659.38,287.53 L659.21,287.29 L659.75,285.47 L659.97,286.06 L659.96,285.08 L659.67,287.18 L659.70,286.45 L659.18,285.72 L659.25,287.09 L660.00,286.61 L659.92,289.63 L660.09,288.19 L660.00,290.97 L659.98,289.27 L659.66,290.38 L660.42,289.98 L660.54,292.24 L659.78,291.07 L659.57,292.79 L660.19,292.54 L660.67,293.69 L660.39,294.53 L660.60,295.05 L659.70,294.77 L660.69,297.45 L659.91,294.91 L660.61,295.75 L659.88,295.93 L659.91,297.71 L660.40,297.38 L659.98,297.69 L660.31,298.38 L660.56,299.10 L660.49,299.73 L661.14,299.04 L660.77,302.03 L660.50,299.99 L660.81,303.58 L661.28,301.69 L660.50,304.52 L661.08,303.67 L660.84,302.84 L661.32,305.03 L661.30,305.54 L660.69,305.18 L661.67,304.44 L661.80,307.78 L661.69,305.61 L661.23,306.41 L661.90,306.99 L661.92,309.54 L662.10,308.56 L661.71,308.64 L661.36,310.50 L661.25,310.01 L661.40,311.86 L661.57,310.17 L662.05,312.31 L662.36,312.41 L661.64,313.63 L661.64,313.41 L661.67,312.94 L661.96,312.89 L662.38,315.98 L661.91,313.89 L662.34,315.99 L661.84,314.68 L662.48,316.89 L662.71,315.84 L662.52,316.84 L662.25,318.25 L662.34,320.05 L662.55,318.89 L663.11,320.69 L662.60,320.96 L662.75,321.28 L663.18,322.52 L662.30,322.39 L662.60,322.29 L663.03,321.74 L662.98,322.20 L662.67,323.52 L663.05,324.67 L663.41,326.02 L662.55,325.93 L662.86,326.02 L662.83,327.33 L662.35,326.06 L662.99,326.89 L662.51,326.90 L662.49,327.92 L662.97,327.48 L663.06,328.49 L662.96,329.52 L662.54,328.85 L663.71,330.59 L663.00,330.27 L663.50,330.87 L663.59,331.87 L662.82,330.94 L663.13,332.02 L663.18,333.07 L663.27,335.19 L663.93,334.56 L663.52,335.24 L663.23,336.26 L664.01,334.49 L663.59,336.40 L663.81,335.57 L663.72,336.93 L664.08,337.17 L663.33,337.90 L663.30,339.86 L663.64,338.61 L663.23,341.07 L664.07,339.43 L663.64,339.55 L664.03,341.99 L663.34,342.50 L663.66,342.28 L663.83,341.58 L663.88,341.30 L663.52,339.06 L663.43,339.23 L664.45,337.81 L664.47,338.46 L664.05,336.78 L663.64,337.18 L664.65,336.10 L664.19,336.91 L664.64,336.10 L664.36,336.59 L664.72,333.52 L664.00,333.35 L664.36,332.77 L664.33,333.56 L663.98,332.74 L664.49,332.97 L664.88,331.29 L665.02,332.64 L664.03,332.28 L664.53,330.04 L664.91,329.16 L664.22,330.58 L665.25,328.91 L664.66,329.55 L664.70,326.72 L665.13,327.46 L664.56,325.98 L664.27,327.89 L664.41,326.27 L664.84,326.20 L664.63,326.24 L664.67,325.61 L664.53,322.58 L664.93,322.17 L664.92,324.43 L664.57,323.15 L665.21,322.04 L665.30,320.25 L665.04,320.84 L665.52,321.54 L664.87,318.82 L665.10,318.11 L666.00,319.45 L665.92,320.00 L665.88,316.83 L665.54,318.36 L665.74,318.60 L665.33,315.31 L665.85,314.85 L666.19,315.94 L665.22,313.47 L665.57,316.07 L666.34,313.28 L666.30,312.29 L666.07,314.34 L665.45,312.91 L666.23,312.41 L666.16,312.45 L665.85,309.80 L665.73,311.07 L665.98,308.77 L666.38,310.56 L666.93,308.60 L666.11,308.85 L666.89,308.30 L666.43,307.15 L667.14,307.35 L666.22,307.06 L666.44,306.37 L666.96,305.51 L666.73,303.47 L666.86,303.97 L666.73,305.21 L666.53,304.06 L666.82,302.28 L666.50,302.74 L666.85,303.04 L666.58,301.13 L667.38,302.30 L666.61,302.16 L667.10,298.65 L667.39,297.99 L666.78,299.78 L667.22,298.45 L666.86,296.96 L667.26,298.68 L666.59,297.47 L666.80,295.67 L667.28,294.51 L667.64,295.94 L667.66,295.38 L667.20,294.57 L667.15,293.40 L667.20,295.27 L667.06,291.40 L667.41,291.61 L667.25,292.24 L667.62,293.26 L666.76,289.71 L667.46,291.45 L667.37,290.78 L667.33,288.02 L667.53,290.46 L666.98,287.05 L667.51,289.73 L667.72,286.50 L667.94,288.82 L667.89,287.29 L667.50,284.71 L667.37,286.92 L668.02,283.92 L667.01,285.53 L667.70,282.62 L667.79,285.49 L667.20,284.70 L667.31,283.07 L667.29,281.64 L667.19,281.65 L667.93,281.89 L668.10,282.35 L668.24,278.67 L668.36,280.96 L667.36,281.26 L667.51,282.56 L667.98,284.12 L667.96,284.30 L668.19,282.61 L667.99,284.55 L667.97,283.41 L667.77,285.56 L668.11,283.96 L667.65,286.33 L668.77,285.38 L668.56,285.86 L667.77,286.50 L668.74,287.67 L667.79,289.24 L668.51,289.46 L668.60,289.13 L668.05,289.77 L668.02,290.91 L668.92,289.99 L668.55,291.43 L668.56,292.44 L668.66,291.75 L668.46,290.93 L669.26,291.49 L668.88,295.12 L669.16,292.92 L669.13,293.86 L668.93,295.67 L668.55,296.49 L668.92,297.31 L669.31,297.53 L668.83,296.24 L668.46,297.12 L669.22,299.42 L669.09,298.56 L668.55,300.42 L669.32,299.09 L669.13,300.20 L668.83,299.73 L669.01,301.66 L669.72,303.07 L669.00,303.68 L668.83,302.60 L668.82,302.56 L669.92,303.54 L669.24,304.93 L669.95,303.77 L669.88,303.50 L668.98,306.72 L669.71,307.54 L669.48,306.13 L669.63,307.36 L670.12,307.75 L669.11,305.43 L669.92,306.46 L669.28,305.55 L670.32,303.09 L669.85,303.58 L669.57,305.17 L669.46,303.52 L670.32,302.77 L670.39,300.89 L670.52,303.20 L670.71,302.09 L670.28,301.34 L670.64,301.23 L670.52,300.05 L670.17,297.98 L670.84,298.00 L670.21,299.11 L669.98,299.37 L670.35,295.59 L671.14,295.14 L670.52,295.65 L670.74,296.92 L670.67,295.63 L671.34,294.53 L670.87,293.38 L670.46,293.61 L670.94,291.91 L670.90,293.78 L671.55,290.60 L671.54,290.39 L671.31,289.56 L670.89,289.43 L671.53,289.94 L671.17,289.50 L671.34,288.89 L671.91,287.94 L670.97,287.11 L671.28,287.95 L670.96,288.10 L671.39,287.44 L671.36,287.88 L671.43,285.54 L671.44,285.43 L671.73,286.39 L671.72,286.99 L672.18,286.51 L672.43,287.94 L671.89,287.32 L672.10,286.60 L672.28,287.33 L672.61,289.55 L672.62,290.91 L672.69,288.93 L673.43,289.02 L673.05,291.06 L673.70,292.36 L673.75,291.43 L673.69,292.71 L673.74,291.12 L673.81,293.74 L673.54,292.14 L674.54,292.15 L674.01,290.21 L673.94,290.24 L673.85,288.64 L674.38,289.92 L674.99,290.43 L675.03,289.65 L674.00,289.04 L675.20,285.92 L674.84,288.21 L674.69,286.78 L674.41,285.57 L674.63,285.55 L675.41,283.47 L675.48,284.69 L675.19,283.15 L675.56,282.60 L675.41,281.86 L675.09,282.69 L675.35,280.40 L675.82,281.61 L675.12,279.90 L675.93,279.81 L675.79,279.04 L675.20,277.79 L675.76,279.91 L675.80,277.13 L675.77,279.86 L675.87,277.89 L675.49,277.20 L676.20,278.20 L675.91,275.61 L676.76,274.49 L676.16,276.57 L676.44,275.15 L675.89,273.07 L676.12,274.69 L676.01,273.53 L676.26,270.88 L676.87,272.90 L676.99,273.76 L676.29,271.40 L676.93,272.66 L676.46,271.77 L677.05,271.19 L677.04,268.21 L677.32,267.14 L677.53,267.23 L677.59,266.55 L677.68,267.87 L677.25,268.74 L677.45,267.16 L678.03,267.54 L677.83,266.51 L678.27,263.96 L678.39,266.38 L678.31,263.29 L678.40,264.21 L678.01,264.23 L678.48,262.05 L678.25,262.64 L677.65,263.07 L678.18,258.97 L678.64,258.83 L678.69,258.29 L677.80,258.37 L678.47,260.10 L678.38,258.16 L678.81,258.27 L678.33,257.58 L678.18,256.89 L677.83,257.37 L678.82,256.89 L678.37,256.69 L677.84,254.44 L678.38,252.82 L678.78,255.72 L678.65,252.22 L678.33,254.43 L677.99,254.16 L678.39,251.39 L678.32,252.60 L678.83,250.25 L678.31,250.15 L678.39,248.91 L678.25,250.54 L678.42,249.85 L678.99,246.49 L678.50,247.21 L678.10,249.69 L678.11,245.22 L678.89,245.12 L677.93,246.25 L678.50,244.65 L678.27,243.72 L678.44,246.50 L678.63,242.99 L678.55,241.95 L678.04,243.87 L678.31,242.92 L678.69,243.32 L678.69,243.57 L678.19,239.78 L678.95,241.65 L678.49,238.24 L678.56,238.74 L678.68,240.95 L678.93,239.87 L678.76,237.23 L678.60,237.18 L678.84,237.40 L679.05,235.23 L678.43,234.70 L679.25,237.40 L679.22,234.66 L679.23,232.63 L678.13,232.90 L678.29,235.03 L678.14,235.47 L678.59,233.03 L678.75,233.33 L679.10,235.04 L679.40,236.21 L678.47,238.32 L679.37,239.15 L678.96,238.01 L678.74,236.68 L678.62,237.41 L678.80,239.70 L679.13,240.89 L678.57,241.65 L679.10,242.23 L678.81,241.74 L679.04,242.52 L679.28,243.12 L678.97,240.98 L678.66,244.23 L679.32,244.18 L679.09,245.04 L679.29,244.46 L678.84,246.17 L679.09,245.58 L679.12,246.43 L679.11,245.21 L679.30,248.76 L679.77,249.18 L679.58,246.96 L680.07,246.30 L679.11,249.54 L679.60,249.54 L679.38,250.69 L679.81,252.23 L680.07,249.05 L679.48,253.09 L680.18,252.82 L679.26,254.05 L679.50,254.34 L680.05,254.67 L680.34,253.71 L680.48,255.65 L680.00,256.81 L680.15,256.33 L679.97,255.38 L679.66,256.33 L680.46,255.77 L680.34,258.75 L680.16,258.56 L680.40,258.56 L680.18,256.65 L679.95,261.21 L679.84,259.58 L680.79,259.17 L680.81,258.73 L680.94,262.42 L681.07,260.65 L680.54,261.62 L680.70,264.51 L680.23,263.88 L680.47,261.56 L681.19,262.47 L681.40,263.56 L680.53,265.81 L680.73,266.43 L680.49,266.16 L681.39,267.90 L681.33,267.36 L680.70,266.86 L681.49,267.29 L680.77,267.76 L681.19,265.96 L680.68,264.54 L680.80,265.82 L680.80,267.14 L681.61,266.07 L681.32,263.79 L681.42,266.09 L681.86,263.10 L681.85,262.08 L681.22,261.79 L681.50,261.32 L681.56,263.20 L681.93,259.77 L681.36,261.55 L680.89,261.59 L681.71,260.04 L681.59,260.30 L681.36,256.79 L681.53,257.17 L681.36,257.22 L681.53,257.33 L681.17,258.34 L681.06,255.22 L681.87,254.03 L681.01,257.00 L681.96,254.10 L682.05,255.78 L681.25,255.85 L681.20,251.35 L680.93,252.74 L681.49,251.17 L681.12,252.54 L681.34,249.61 L681.10,248.97 L681.92,248.53 L681.02,251.44 L681.99,250.62 L681.35,249.46 L681.10,249.71 L682.24,246.77 L682.29,248.01 L681.34,250.83 L682.15,248.40 L682.27,249.10 L681.84,251.88 L681.91,251.49 L682.51,253.68 L682.59,253.36 L683.00,251.10 L682.65,254.68 L682.72,254.34 L682.86,255.52 L682.94,253.93 L682.42,254.13 L683.55,255.92 L682.85,257.24 L683.33,255.84 L683.21,255.65 L683.51,254.85 L683.34,255.96 L683.56,255.05 L683.09,251.68 L683.23,252.02 L683.19,252.29 L683.74,254.00 L683.73,250.77 L683.11,252.70 L684.10,250.91 L684.03,249.30 L683.39,250.69 L684.00,247.29 L683.49,247.99 L683.97,247.70 L684.22,249.11 L683.36,248.05 L683.19,245.79 L683.62,244.54 L683.81,243.94 L684.05,243.23 L683.59,243.99 L683.72,244.73 L684.36,241.25 L684.44,244.05 L683.73,241.47 L683.62,242.80 L684.26,243.53 L683.56,241.13 L684.04,239.43 L683.73,242.12 L683.68,239.84 L684.51,241.09 L684.55,239.87 L683.97,236.46 L684.37,235.31 L683.96,235.01 L684.87,234.94 L684.14,237.29 L684.01,237.64 L684.31,233.28 L684.00,235.89 L684.56,235.31 L684.34,234.87 L684.09,230.82 L684.60,233.52 L684.26,233.22 L684.31,230.44 L684.93,232.64 L684.98,228.85 L684.70,227.80 L685.09,228.34 L685.02,230.04 L684.43,227.12 L685.40,228.80 L685.75,225.34 L685.36,229.16 L685.89,226.91 L686.07,228.43 L686.40,226.02 L685.69,225.46 L686.33,225.30 L686.49,223.84 L686.57,222.85 L687.29,225.89 L687.27,224.98 L686.90,223.88 L687.25,227.36 L686.54,226.13 L687.10,229.38 L686.82,228.40 L687.11,226.31 L687.53,228.20 L687.39,229.93 L687.42,229.98 L687.74,228.41 L687.29,231.02 L686.71,229.67 L687.50,232.60 L686.96,232.91 L687.61,232.56 L687.81,233.77 L687.67,231.69 L687.52,231.83 L686.89,234.76 L687.63,234.72 L686.95,237.30 L687.84,236.13 L687.99,234.81 L687.35,239.10 L687.15,236.23 L687.50,236.78 L688.15,239.51 L688.20,239.33 L687.87,239.22 L687.62,237.76 L687.30,238.37 L687.31,242.44 L687.83,240.62 L687.27,242.14 L688.07,240.76 L687.40,242.59 L687.76,243.42 L687.40,246.26 L687.46,243.07 L688.55,245.23 L687.57,245.76 L687.90,244.20 L688.35,245.68 L687.85,243.51 L688.21,242.26 L688.29,241.51 L688.15,239.71 L688.16,243.30 L688.62,240.62 L688.63,241.53 L688.64,239.07 L688.56,237.75 L688.08,236.41 L688.31,236.65 L687.95,238.75 L688.07,238.90 L689.13,238.76 L689.03,236.71 L688.60,237.74 L688.14,236.86 L688.91,236.02 L688.34,235.52 L688.83,231.78 L689.06,233.74 L688.95,231.25 L688.61,234.47 L689.49,233.28 L688.90,232.10 L688.97,230.41 L688.53,228.53 L688.68,228.77 L688.94,231.23 L689.22,230.63 L689.66,230.25 L689.15,228.87 L689.33,226.14 L689.68,225.97 L689.48,224.19 L689.26,225.12 L689.97,225.61 L689.25,227.31 L690.00,226.65 L689.57,224.07 L689.87,221.98 L689.88,222.89 L689.74,224.53 L689.69,222.93 L689.62,219.68 L689.32,218.85 L689.62,222.87 L689.75,218.22 L690.01,217.35 L689.61,217.69 L690.52,219.22 L690.33,215.63 L690.12,217.96 L689.61,216.67 L690.28,215.83 L690.91,215.25 L690.79,214.78 L690.79,216.65 L690.50,214.56 L690.10,215.84 L690.04,212.23 L690.63,213.08 L691.26,214.94 L690.80,211.66 L691.17,209.64 L690.53,211.25 L690.44,212.58 L691.03,208.60 L690.68,212.22 L691.53,207.99 L691.75,207.85 L690.99,205.73 L691.74,206.73 L691.55,205.17 L691.93,208.73 L690.85,207.83 L691.07,205.67 L691.12,203.31 L691.54,206.01 L691.21,202.37 L692.00,201.54 L691.48,204.65 L692.11,205.25 L691.26,200.81 L691.73,200.24 L691.62,201.87 L691.65,202.33 L691.84,199.42 L691.12,202.28 L691.25,199.34 L691.62,200.24 L691.93,200.24 L691.84,200.40 L692.34,197.98 L691.59,198.60 L692.31,194.37 L692.34,193.66 L692.05,197.84 L692.00,197.44 L692.01,195.86 L691.41,192.55 L691.88,194.88 L692.03,191.04 L691.69,191.31 L692.14,194.14 L692.74,193.11 L692.66,191.07 L692.90,190.70 L693.89,192.25 L694.04,189.28 L693.55,188.49 L694.83,190.71 L695.11,189.26 L694.32,191.88 L694.97,192.60 L695.07,189.72 L694.32,191.81 L694.64,192.00 L694.38,193.30 L694.80,191.27 L694.90,195.31 L695.11,194.07 L694.26,192.53 L694.78,193.03 L694.41,196.24 L694.16,196.74 L695.33,194.62 L694.27,199.65 L694.82,198.91 L695.24,198.78 L695.37,199.82 L695.36,200.53 L695.27,198.03 L695.40,199.60 L695.48,202.58 L694.81,202.88 L695.29,202.15 L695.02,200.21 L695.25,203.37 L695.14,202.68 L694.89,205.23 L695.53,205.44 L695.10,204.31 L695.49,205.40 L694.84,204.78 L695.30,205.91 L695.71,205.18 L695.43,207.47 L694.61,207.50 L695.28,207.85 L695.79,206.83 L695.18,209.87 L694.94,207.51 L695.44,209.58 L695.26,209.25 L695.38,210.23 L695.36,211.87 L695.52,211.70 L695.59,207.81 L695.75,209.36 L695.30,211.19 L695.18,210.26 L694.95,208.75 L695.51,209.16 L695.61,206.76 L695.32,205.85 L695.84,207.02 L695.44,203.22 L695.49,207.28 L695.88,203.48 L696.36,203.40 L695.41,206.10 L695.50,201.65 L695.67,202.31 L696.42,203.02 L695.43,199.36 L695.80,199.09 L695.98,198.71 L696.37,199.43 L696.71,202.13 L696.34,198.75 L696.34,196.73 L696.70,200.23 L695.87,195.79 L696.55,199.36 L695.82,198.13 L695.81,196.87 L696.77,197.02 L695.85,194.30 L697.08,196.02 L696.36,194.93 L696.93,192.87 L696.43,195.84 L697.22,191.30 L696.59,191.93 L696.96,190.81 L696.69,193.97 L696.64,192.79 L697.16,189.94 L697.14,192.45 L697.26,190.51 L697.44,191.20 L696.83,188.59 L697.07,185.21 L696.51,186.64 L696.95,189.68 L696.67,188.85 L697.66,185.20 L697.59,186.45 L696.97,184.94 L697.84,186.36 L697.67,183.91 L697.66,185.24 L697.72,182.92 L698.09,183.89 L698.21,181.16 L698.15,180.90 L698.49,180.42 L698.42,183.10 L697.97,179.46 L698.35,179.27 L698.35,176.52 L697.84,181.10 L698.52,180.41 L698.77,180.53 L698.87,178.46 L698.18,176.27 L699.16,178.25 L698.44,177.00 L698.87,175.24 L698.90,173.97 L699.56,174.02 L699.63,174.50 L698.74,175.63 L699.05,174.35 L699.34,172.86 L699.10,173.19 L699.25,172.35 L699.47,172.46 L700.14,171.16 L699.02,168.56 L699.71,171.66 L700.15,169.71 L699.68,170.65 L699.76,170.73 L700.36,168.71 L699.93,166.08 L699.91,165.61 L700.55,165.38 L700.76,162.81 L700.28,166.63 L700.00,165.25 L700.72,165.48 L700.31,162.71 L700.05,161.24 L700.55,164.52 L700.58,161.61 L699.85,159.54 L700.58,160.07 L700.57,158.54 L700.27,158.88 L700.42,160.88 L700.92,160.40 L700.10,157.69 L700.76,160.01 L700.95,157.93 L701.25,157.24 L701.36,153.47 L700.72,156.66 L701.34,157.94 L700.32,155.55 L700.83,155.21 L701.37,154.41 L701.42,151.21 L700.75,151.81 L700.61,149.63 L701.15,150.54 L700.76,154.18 L701.03,149.68 L701.04,151.35 L700.84,151.03 L701.39,146.66 L700.89,150.38 L701.56,145.68 L701.91,145.29 L701.02,148.68 L700.93,146.43 L701.32,143.92 L702.00,148.36 L701.68,147.09 L701.54,145.53 L701.53,145.48 L701.95,143.36 L701.44,142.25 L702.12,144.14 L701.49,141.52 L701.23,141.39 L701.94,140.59 L701.57,139.03 L701.70,139.14 L701.15,141.75 L701.25,139.43 L701.85,139.95 L701.32,136.73 L701.44,136.75 L702.11,140.03 L701.54,138.89 L701.32,136.24 L702.23,135.76 L701.57,132.88 L702.12,133.05 L701.70,133.24 L701.95,131.12 L702.09,133.61 L702.03,134.46 L701.45,130.98 L701.22,132.66 L702.03,134.37 L701.61,130.98 L701.85,127.77 L701.33,131.82 L702.02,126.90 L702.16,128.83 L702.40,127.95 L701.61,130.49 L701.94,127.77 L702.23,126.71 L702.24,127.89 L701.87,124.40 L701.97,125.83 L702.26,121.83 L701.48,124.19 L701.97,126.40 L702.19,125.14 L702.41,123.86 L701.72,119.58 L702.10,119.79 L701.38,119.66 L701.56,118.61 L701.91,120.82 L701.38,119.81 L701.68,119.74 L701.45,116.29 L701.88,116.19 L701.96,115.80 L702.30,115.27 L701.81,119.60 L702.59,113.65 L702.22,113.23 L702.03,117.30 L701.63,117.72 L702.55,116.06 L702.49,116.77 L702.10,113.12 L701.95,115.45 L701.54,110.88 L701.68,110.03 L701.89,114.52 L702.70,110.05 L702.06,111.88 L701.98,107.34 L702.69,108.12 L702.73,108.52 L701.63,106.97 L701.67,110.84 L702.30,109.57 L702.60,105.57 L702.79,106.08 L702.75,106.48 L702.08,108.58 L702.51,106.41 L701.67,105.66 L702.57,105.39 L701.78,101.42 L702.32,100.04 L702.70,99.80 L702.88,101.48 L702.21,103.23 L702.22,98.84 L702.75,101.34 L702.11,102.86 L702.53,96.20 L702.52,100.42 L702.72,100.74 L702.74,98.98 L702.90,94.91 L701.89,98.28 L702.55,94.22 L702.92,94.70 L702.39,94.01 L702.94,95.12 L702.89,93.18 L702.51,95.70 L702.90,96.81 L702.50,94.89 L702.12,89.30 L702.00,93.19 L702.29,92.63 L702.87,90.28 L702.79,93.07 L702.54,89.71 L703.02,94.12 L702.01,91.88 L701.97,94.51 L702.72,89.33 L702.84,90.40 L702.14,94.44 L703.14,96.54 L703.13,95.22 L702.53,96.76 L703.09,97.42 L702.07,97.00 L702.82,95.18 L702.19,95.63 L702.16,96.78 L702.12,97.41 L702.26,99.70 L702.14,101.69 L702.79,100.02 L702.78,97.45 L702.77,100.43 L702.61,98.35 L702.79,103.46 L702.45,99.77 L702.12,104.75 L702.68,102.42 L702.08,102.59 L703.09,100.81 L702.44,103.76 L702.16,104.24 L703.09,102.15 L702.34,107.39 L702.21,104.80 L702.75,105.30 L702.73,108.83 L703.33,109.99 L702.19,108.54 L702.95,106.03 L703.23,106.51 L702.23,106.49 L702.65,113.49 L702.89,110.95 L702.58,108.44 L703.07,110.66 L703.03,114.00 L702.75,110.37 L702.42,115.91 L702.95,112.53 L702.25,117.44 L702.78,115.86 L703.24,115.26 L702.96,112.81 L703.15,114.81 L702.75,118.01 L703.18,114.70 L702.94,118.91 L703.41,119.72 L703.11,116.83 L702.61,121.12 L702.67,122.27 L703.00,123.12 L703.37,123.73 L702.76,122.94 L703.02,121.27 L702.83,124.09 L702.59,125.21 L702.51,123.18 L702.70,121.35 L703.04,121.03 L702.83,125.34 L703.02,127.02 L702.48,126.76 L702.41,124.91 L703.41,124.29 L703.11,124.63 L703.21,126.73 L703.40,130.48 L703.57,131.59 L703.61,128.37 L702.76,131.26 L703.06,128.91 L702.56,132.79 L703.25,133.59 L702.94,132.14 L702.95,131.26 L703.00,133.93 L703.52,134.42 L702.50,130.85 L702.72,136.88 L702.98,136.56 L702.51,133.25 L703.23,135.06 L702.53,133.15 L703.58,135.16 L702.83,138.63 L703.03,136.90 L702.88,139.36 L703.15,137.59 L703.07,137.34 L703.17,141.10 L702.99,137.19 L702.85,140.96 L703.25,140.30 L702.81,140.65 L702.67,144.39 L702.71,145.08 L703.26,143.35 L703.36,142.94 L703.00,146.42 L702.87,141.74 L703.35,147.38 L703.11,147.10 L703.47,144.90 L703.75,146.93 L703.07,144.89 L703.75,148.70 L703.62,147.80 L703.45,146.08 L703.52,147.94 L702.92,148.25 L703.57,148.57 L703.80,150.82 L702.79,148.47 L703.03,150.43 L703.32,149.37 L702.78,147.17 L703.64,145.32 L703.81,146.28 L703.40,147.96 L702.77,148.57 L703.42,144.42 L703.83,141.74 L703.49,141.85 L703.26,142.11 L703.16,142.84 L703.62,140.49 L702.92,142.87 L702.96,144.57 L703.18,139.32 L703.44,139.72 L702.98,142.65 L703.61,140.06 L703.30,137.55 L703.94,138.25 L703.46,139.88 L703.33,134.85 L703.42,139.15 L703.68,135.92 L703.70,133.16 L703.06,136.82 L703.96,134.60 L703.58,133.10 L703.61,133.14 L703.37,132.94 L703.80,135.90 L703.38,135.89 L703.42,131.94 L703.43,134.05 L703.21,132.34 L703.33,130.95 L703.45,132.88 L703.70,132.65 L703.69,128.14 L703.87,131.52 L703.72,130.33 L703.22,128.48 L703.83,129.39 L703.43,127.68 L703.71,127.95 L704.27,124.52 L703.91,127.02 L703.93,126.98 L704.25,123.46 L703.92,126.43 L703.72,122.80 L704.20,119.71 L703.85,124.46 L704.11,121.52 L703.63,118.04 L703.89,119.08 L703.90,119.28 L703.67,122.44 L703.20,116.67 L703.76,121.04 L703.24,117.88 L703.21,115.10 L703.27,119.97 L703.79,115.58 L703.50,116.79 L704.01,116.79 L703.36,118.61 L703.38,113.42 L703.52,112.88 L704.24,110.61 L704.17,111.78 L704.24,114.98 L704.00,109.07 L704.06,114.25 L703.82,112.05 L703.96,113.07 L703.92,109.33 L703.56,109.65 L704.34,110.55 L703.36,109.93 L704.28,107.71 L703.97,105.31 L704.01,108.65 L703.40,105.70 L703.59,107.81 L704.03,106.59 L703.54,106.95 L704.31,108.21 L703.64,107.01 L703.88,105.45 L704.27,104.82 L704.58,102.27 L704.01,101.98 L703.64,103.44 L703.87,104.22 L703.65,103.67 L704.19,97.77 L704.02,98.10 L704.37,97.32 L704.33,100.63 L703.57,95.85 L703.62,98.55 L704.19,99.00 L704.52,100.05 L704.54,97.58 L703.90,96.03 L704.41,92.33 L704.33,96.17 L704.12,94.57 L704.04,97.01 L704.73,90.90 L704.68,94.89 L704.13,96.99 L704.20,91.51 L704.08,94.42 L703.92,97.04 L703.88,98.85 L704.63,94.43 L704.51,94.57 L704.14,95.35 L703.95,97.25 L704.79,100.26 L703.85,101.48 L704.20,95.58 L704.33,101.15 L704.86,103.21 L704.00,101.73 L703.77,100.24 L704.60,100.68 L703.92,100.63 L704.78,102.70 L703.84,103.95 L703.99,102.94 L704.23,106.10 L704.78,104.01 L704.27,103.48 L704.11,108.76 L704.52,106.17 L704.51,105.24 L704.75,106.34 L704.63,107.78 L704.60,108.39 L703.95,107.61 L704.17,107.93 L704.71,106.01 L704.37,110.04 L703.88,111.77 L704.66,108.28 L704.85,108.19 L704.97,111.90 L704.31,114.81 L704.34,111.77 L704.38,115.18 L705.02,115.34 L704.46,116.03 L704.44,116.48 L704.36,115.87 L705.04,118.78 L704.53,116.77 L704.55,114.12 L704.17,120.21 L704.19,119.66 L704.22,119.74 L704.82,119.44 L704.91,116.14 L704.20,119.94 L704.57,118.98 L704.13,122.39 L704.20,118.39 L704.41,122.67 L704.80,124.02 L704.64,121.88 L704.67,120.89 L704.23,124.73 L704.12,125.36 L704.62,127.88 L704.77,128.04 L704.85,123.85 L704.43,126.99 L704.89,128.00 L704.25,128.41 L705.08,130.79 L705.11,127.78 L704.42,131.95 L704.30,127.18 L704.19,129.64 L704.90,128.48 L704.76,127.55 L704.88,130.59 L704.61,130.12 L704.06,130.32 L704.49,135.05 L705.18,131.85 L704.71,132.83 L704.56,131.84 L705.06,137.09 L705.17,137.21 L704.14,133.92 L704.87,133.77 L704.54,136.94 L704.36,138.51 L704.60,138.33 L705.04,135.83 L705.08,136.61 L704.65,140.80 L704.37,139.33 L704.97,137.82 L704.81,139.79 L704.46,140.27 L705.06,139.47 L704.34,141.68 L704.34,144.96 L704.35,141.39 L705.10,143.97 L705.29,141.14 L705.18,145.86 L704.71,144.59 L704.51,143.03 L704.54,148.39 L705.21,149.07 L704.38,149.69 L705.22,147.08 L704.52,146.88 L704.87,145.57 L704.49,149.36 L705.00,148.05 L705.19,148.02 L704.75,152.84 L704.94,148.75 L704.39,150.27 L704.94,153.31 L704.57,151.12 L705.38,154.39 L704.99,152.60 L704.85,152.30 L704.66,155.00 L704.95,155.64 L704.45,151.72 L704.49,153.49 L705.03,153.80 L705.39,153.79 L705.26,153.19 L705.39,149.67 L705.05,154.18 L705.01,153.06 L704.55,150.14 L705.22,149.93 L705.44,151.38 L705.51,149.17 L704.40,147.77 L705.04,147.61 L704.67,149.28 L705.27,144.12 L705.43,144.66 L704.58,146.51 L705.35,145.73 L705.57,143.37 L704.61,141.82 L705.25,144.71 L705.55,144.26 L704.51,141.24 L704.88,142.87 L704.94,141.48 L704.81,144.06 L705.16,142.36 L705.58,139.28 L704.85,138.60 L705.33,137.70 L704.94,140.40 L705.22,136.23 L705.17,137.14 L704.52,138.68 L705.51,134.27 L704.64,139.06 L705.05,134.42 L704.91,137.85 L704.66,138.15 L704.62,137.33 L705.73,134.88 L705.67,135.16 L705.72,132.26 L704.91,135.36 L705.69,134.01 L705.06,129.88 L705.29,133.01 L705.13,133.48 L704.81,129.92 L705.67,128.29 L705.70,127.71 L705.32,130.77 L704.64,126.98 L705.64,125.27 L705.80,130.32 L705.78,125.34 L705.10,125.91 L705.65,128.51 L705.02,126.50 L704.90,122.21 L704.92,122.75 L705.07,124.30 L705.75,121.44 L704.71,121.96 L705.37,119.06 L705.39,118.70 L705.29,118.17 L705.38,121.66 L705.74,118.46 L705.72,123.05 L705.92,122.29 L705.41,117.99 L705.71,117.80 L705.04,115.65 L705.43,117.06 L705.18,120.23 L705.25,113.04 L704.91,118.47 L705.52,115.54 L705.20,117.23 L705.96,115.16 L705.50,117.16 L705.61,112.33 L705.65,114.52 L705.30,113.65 L705.27,113.44 L704.97,109.62 L705.06,111.33 L705.22,108.97 L705.37,109.09 L705.51,112.76 L705.36,109.32 L705.86,108.82 L705.51,108.15 L705.12,106.46 L705.13,105.98 L705.19,106.96 L705.95,108.35 L706.30,106.75 L706.26,109.56 L706.59,109.89 L705.90,112.08 L706.20,111.66 L706.44,113.50 L706.05,110.40 L706.16,116.12 L707.14,111.59 L706.52,110.71 L706.85,113.82 L707.21,116.70 L706.15,114.04 L706.06,113.83 L706.81,114.69 L706.19,119.43 L707.14,115.68 L706.56,118.34 L706.16,115.35 L706.84,116.84 L706.71,116.26 L706.12,121.87 L706.62,118.80 L707.01,121.46 L706.66,122.42 L706.89,120.63 L707.26,121.95 L706.86,122.91 L706.74,124.31 L706.97,123.65 L707.38,124.86 L706.78,123.40 L707.17,128.34 L706.56,126.05 L706.70,124.06 L706.73,126.19 L706.80,125.56 L706.35,128.16 L707.09,129.21 L706.54,126.66 L706.81,126.13 L706.75,130.80 L706.99,130.73 L706.33,127.67 L707.39,131.19 L706.82,132.98 L706.45,130.57 L707.21,133.58 L706.41,132.43 L707.16,132.18 L706.80,135.87 L706.79,137.12 L706.58,132.03 L707.19,138.12 L706.69,133.44 L706.93,135.92 L707.47,134.05 L706.68,137.79 L707.06,135.09 L707.24,141.35 L707.44,141.37 L706.46,140.63 L707.10,138.87 L706.67,140.03 L707.46,138.32 L706.78,142.62 L707.48,141.86 L707.19,140.30 L707.53,141.36 L707.59,145.44 L707.07,143.30 L706.89,143.41 L707.64,147.88 L707.57,148.62 L707.28,145.95 L707.01,149.07 L707.46,149.63 L706.94,146.16 L706.71,149.19 L706.76,146.98 L707.62,146.56 L707.52,152.58 L707.44,150.01 L707.08,151.64 L706.71,151.11 L706.98,149.89 L707.36,151.09 L706.87,150.88 L707.53,155.26 L707.53,156.11 L707.19,152.09 L707.58,156.49 L707.19,153.29 L706.64,155.99 L707.52,154.38 L707.17,157.45 L707.28,157.36 L706.75,156.49 L707.58,159.39 L707.59,158.03 L707.50,160.89 L707.84,161.27 L707.82,157.14 L707.63,160.12 L706.82,162.32 L706.86,160.94 L707.21,161.33 L707.18,158.71 L707.68,160.84 L707.85,157.28 L707.97,156.11 L707.98,158.16 L708.30,157.75 L707.72,157.75 L707.90,156.64 L707.64,154.30 L708.30,156.94 L708.20,157.48 L707.90,154.19 L708.26,154.93 L708.43,155.91 L707.92,152.00 L708.57,149.44 L708.16,151.31 L708.33,148.51 L708.12,153.25 L708.75,151.81 L708.61,150.82 L708.75,147.79 L709.16,149.39 L708.47,148.48 L708.85,150.43 L708.90,146.41 L708.36,144.74 L708.70,148.81 L708.42,147.80 L708.47,145.23 L708.91,146.81 L708.67,143.75 L708.48,142.10 L708.62,144.63 L708.73,140.43 L709.46,142.13 L708.78,141.21 L709.18,144.43 L708.80,140.68 L708.53,138.69 L709.13,139.77 L708.95,136.93 L709.11,136.86 L709.21,137.46 L708.91,139.77 L708.54,136.70 L709.20,135.11 L708.64,138.44 L709.59,139.03 L709.15,134.60 L708.92,136.08 L709.40,133.61 L709.08,133.88 L708.71,133.89 L708.94,132.79 L709.23,130.32 L709.25,133.30 L709.44,131.48 L709.83,130.48 L708.68,128.62 L709.52,130.45 L709.18,128.73 L709.01,127.97 L709.77,130.42 L709.43,126.55 L708.92,127.24 L709.42,128.55 L709.89,129.76 L709.13,128.69 L709.80,122.93 L709.67,122.42 L709.71,122.37 L708.98,121.06 L709.51,125.98 L710.08,122.70 L709.20,124.44 L709.41,123.42 L709.34,121.30 L709.34,119.21 L709.22,119.02 L709.46,122.57 L710.00,119.96 L709.23,120.26 L710.17,121.62 L709.47,120.36 L709.86,119.80 L709.56,113.89 L709.77,117.91 L710.09,119.12 L710.33,117.86 L710.26,114.01 L710.14,111.19 L709.80,111.27 L709.31,113.18 L710.18,114.02 L709.55,110.70 L709.90,113.95 L709.65,108.28 L709.63,114.16 L710.27,109.88 L711.14,114.23 L711.40,111.01 L710.69,109.05 L711.38,111.90 L710.68,110.81 L710.86,116.18 L710.75,111.22 L710.99,111.88 L711.45,115.78 L711.29,114.27 L711.37,115.08 L711.43,114.06 L711.80,113.82 L711.37,115.73 L711.24,116.08 L711.49,117.09 L711.74,121.06 L711.28,122.86 L711.17,120.49 L711.36,119.22 L710.83,124.31 L711.16,123.29 L711.10,122.77 L711.38,124.07 L711.33,121.84 L710.92,120.30 L710.91,126.80 L711.62,123.90 L711.95,121.99 L711.99,123.62 L711.55,125.61 L710.96,127.23 L711.76,127.08 L711.75,129.44 L711.03,129.21 L711.50,127.91 L711.82,125.99 L711.58,126.89 L711.11,128.46 L711.67,133.44 L711.66,132.49 L711.99,131.88 L711.40,129.11 L711.67,130.61 L712.07,132.25 L711.30,131.69 L711.85,136.62 L711.44,133.95 L711.18,136.41 L711.36,136.81 L711.27,137.84 L712.31,139.01 L711.56,133.78 L712.44,139.98 L712.51,136.47 L711.94,138.80 L712.23,139.97 L712.85,136.97 L712.21,141.12 L712.83,139.75 L712.41,139.88 L713.33,141.35 L712.59,139.10 L713.56,142.04 L712.48,145.75 L712.72,144.01 L712.81,141.75 L713.93,144.08 L713.27,147.49 L713.75,147.55 L714.10,142.86 L714.28,144.60 L714.28,144.20 L713.84,147.07 L713.83,145.51 L713.93,149.60 L713.92,151.46 L713.46,151.48 L714.04,150.93 L713.74,152.33 L714.34,150.23 L713.83,149.44 L714.18,153.58 L713.44,151.87 L713.94,154.05 L713.92,151.32 L714.49,151.20 L714.66,155.73 L713.71,155.47 L714.73,154.43 L713.97,152.36 L713.78,153.76 L714.34,155.02 L714.66,154.26 L713.85,156.95 L714.29,155.46 L714.28,157.45 L714.13,156.49 L713.82,159.38 L714.75,159.85 L713.92,160.88 L713.88,161.62 L713.81,159.19 L714.03,162.00 L713.98,161.00 L714.03,165.16 L714.85,164.34 L714.60,163.50 L714.94,162.31 L714.11,163.92 L714.24,163.53 L714.35,161.71 L714.98,161.23 L714.64,162.23 L714.85,157.66 L715.03,162.33 L715.34,160.07 L715.62,159.68 L715.42,161.10 L714.76,159.72 L715.51,155.94 L715.75,157.36 L715.17,158.04 L715.62,153.89 L715.48,153.02 L715.42,153.53 L715.76,155.34 L715.13,154.62 L715.96,155.82 L715.91,155.41 L716.30,153.32 L716.05,153.44 L715.38,148.60 L716.42,152.27 L715.72,149.74 L716.53,149.58 L715.74,151.04 L715.89,147.11 L716.00,149.99 L716.25,150.39 L716.31,145.56 L716.92,144.73 L716.43,143.50 L716.03,145.23 L717.23,143.75 L716.60,147.25 L717.21,146.85 L717.02,146.26 L716.78,143.93 L716.91,144.38 L716.43,145.51 L717.14,144.54 L717.28,141.16 L716.75,139.67 L717.47,141.02 L717.35,138.39 L717.46,140.54 L717.17,137.76 L717.46,141.03 L717.43,139.32 L717.11,138.41 L717.09,135.08 L717.63,139.62 L716.88,133.11 L717.55,133.88 L717.48,133.01 L716.99,132.60 L716.76,137.13 L716.96,134.10 L716.73,134.74 L716.98,133.73 L717.09,135.06 L716.75,132.69 L717.50,133.96 L717.66,133.30 L717.68,127.22 L717.05,128.82 L717.63,131.67 L716.94,127.62 L716.95,129.09 L716.96,125.90 L717.82,124.95 L718.13,125.08 L717.93,124.66 L717.77,127.19 L717.19,125.83 L718.15,126.82 L717.29,124.34 L717.39,120.88 L717.49,126.29 L717.76,121.18 L718.10,119.04 L717.55,123.53 L718.28,118.00 L718.14,122.74 L718.39,118.22 L717.31,120.62 L718.13,122.42 L718.39,116.54 L718.10,118.83 L717.62,114.48 L717.40,119.16 L717.49,114.61 L717.60,116.75 L718.00,117.63 L718.57,117.12 L717.73,117.92 L718.53,113.28 L718.78,112.58 L718.49,112.11 L718.68,111.07 L718.40,110.77 L718.96,113.30 L718.25,108.80 L719.04,108.80 L719.06,111.50 L718.59,112.91 L718.42,111.25 L719.24,110.74 L719.57,110.60 L719.25,110.76 L719.09,114.47 L719.41,114.82 L719.16,111.10 L720.13,115.71 L720.28,116.38 L720.29,116.77 L720.17,118.43 L719.76,116.83 L719.77,115.31 L720.24,114.95 L720.55,116.67 L720.30,120.77 L721.09,121.70 L720.90,117.45 L720.37,117.98 L720.65,118.62 L720.49,117.68 L721.55,123.52 L720.65,124.38 L721.65,119.24 L721.09,122.07 L721.37,124.73 L720.97,122.73 L721.70,121.79 L720.95,127.53 L721.59,123.48 L721.60,124.25 L721.38,126.29 L721.62,124.23 L721.34,129.29 L722.21,127.97 L721.71,128.67 L722.28,131.50 L721.76,132.43 L722.00,129.54 L722.25,132.36 L722.18,130.94 L722.05,133.64 L721.89,129.17 L721.85,130.39 L722.46,135.64 L722.39,134.95 L722.17,133.64 L722.49,136.51 L722.97,133.85 L723.36,137.32 L722.76,135.30 L722.85,138.00 L723.00,134.46 L722.82,135.61 L723.02,139.08 L723.05,138.62 L723.71,135.82 L723.71,140.53 L723.16,139.95 L724.04,139.74 L723.83,142.02 L723.42,141.52 L724.32,138.34 L723.69,138.59 L724.32,141.49 L724.60,143.85 L723.98,145.80 L723.88,141.98 L723.95,142.97 L724.60,147.42 L724.07,144.94 L724.32,148.07 L724.29,147.66 L724.24,145.03 L724.44,147.17 L724.98,147.89 L724.30,146.22 L724.65,148.51 L724.64,148.57 L724.37,147.31 L725.01,151.28 L725.03,151.53 L724.53,150.94 L724.96,153.89 L724.65,151.57 L725.54,151.56 L725.36,152.23 L725.13,150.99 L724.72,152.38 L724.94,153.07 L724.98,155.63 L724.70,157.44 L725.06,157.89 L725.03,158.00 L725.66,155.23 L725.48,158.02 L725.49,157.82 L725.55,160.93 L725.10,161.49 L725.77,157.93 L725.80,161.64 L725.25,159.73 L725.02,163.29 L725.01,159.10 L725.33,160.41 L725.41,161.37 L725.29,159.79 L724.97,163.10 L726.01,163.43 L726.09,164.93 L725.57,166.65 L725.07,162.17 L726.04,165.94 L725.22,164.98 L725.74,167.99 L725.28,166.76 L725.85,167.76 L726.27,169.16 L726.22,165.93 L725.75,167.86 L726.26,168.48 L725.41,169.54 L725.53,170.22 L725.45,168.04 L725.96,170.65 L725.61,168.94 L726.13,174.64 L726.16,175.58 L726.37,175.92 L725.64,173.13 L726.56,172.25 L726.00,175.69 L726.44,173.32 L726.00,178.20 L726.38,179.06 L725.99,175.05 L726.91,178.41 L726.10,176.01 L726.09,176.16 L726.36,177.13 L726.67,177.69 L726.21,178.20 L726.12,179.71 L726.04,178.13 L726.76,178.37 L726.55,179.12 L726.73,184.33 L726.49,181.56 L726.41,182.73 L726.23,181.14 L726.31,182.14 L726.21,183.68 L726.34,185.76 L726.95,185.67 L727.03,186.09 L726.70,188.15 L726.23,185.50 L726.64,188.65 L726.32,186.93 L727.31,186.82 L727.27,188.92 L726.57,191.45 L727.36,188.56 L727.03,189.12 L726.89,193.43 L727.50,191.13 L727.48,194.01 L726.66,193.65 L726.43,190.58 L727.08,195.81 L727.59,196.08 L727.63,193.10 L726.70,193.79 L727.69,194.28 L726.96,198.34 L727.56,196.38 L727.69,198.58 L726.92,196.71 L727.80,198.00 L727.76,199.02 L727.36,197.29 L727.48,201.60 L727.80,201.43 L727.69,200.06 L727.43,201.86 L727.91,201.44 L728.16,203.83 L727.82,201.61 L728.07,203.06 L727.64,201.92 L728.08,202.50 L727.16,205.35 L727.36,202.70 L728.16,205.70 L727.36,204.90 L728.04,206.64 L727.64,206.34 L727.61,206.41 L727.81,209.31 L728.03,209.29 L727.73,207.30 L728.44,210.06 L727.61,211.82 L727.56,208.96 L727.93,209.10 L728.58,212.29 L727.67,212.14 L727.69,211.55 L728.22,211.56 L727.76,213.19 L728.65,212.55 L728.31,214.83 L727.97,213.78 L727.64,216.48 L728.79,216.44 L727.72,216.84 L728.62,214.34 L728.20,215.60 L728.52,218.42 L728.55,217.11 L728.31,220.71 L728.59,218.64 L728.61,221.50 L728.74,222.26 L728.12,222.90 L728.09,222.00 L728.27,219.78 L728.23,224.33 L729.01,221.71 L728.82,225.49 L728.92,222.93 L727.96,222.03 L728.37,222.52 L729.02,223.89 L729.02,225.38 L728.47,226.08 L728.10,225.86 L729.20,226.91 L729.19,229.89 L728.62,226.20 L728.30,230.22 L728.38,227.05 L729.04,227.65 L729.35,231.13 L729.03,228.49 L728.42,232.51 L729.40,229.63 L728.32,233.48 L729.05,231.14 L728.80,231.57 L728.40,231.97 L728.96,234.04 L728.33,236.23 L728.43,234.43 L728.56,235.85 L729.55,235.32 L729.20,237.29 L728.66,236.59 L729.61,236.46 L729.47,233.19 L728.72,233.88 L729.52,234.83 L728.76,232.05 L728.79,233.12 L729.75,232.65 L729.10,229.88 L728.81,230.21 L729.76,231.54 L729.32,230.48 L729.70,231.07 L729.09,231.84 L729.81,227.59 L729.79,229.13 L729.70,226.44 L728.93,225.80 L729.23,225.31 L729.60,226.23 L729.35,228.24 L729.35,226.02 L729.19,224.57 L729.20,222.24 L729.88,225.22 L729.47,224.55 L729.19,222.71 L730.18,221.39 L729.48,222.58 L729.61,221.82 L729.54,220.14 L730.14,220.31 L729.43,222.08 L729.37,219.44 L729.29,221.40 L729.16,218.57 L729.72,217.97 L729.37,215.25 L729.78,217.17 L729.29,215.69 L729.67,215.29 L729.99,213.69 L729.93,213.77 L729.33,215.73 L730.10,214.17 L730.18,215.67 L730.17,214.89 L730.37,211.29 L730.00,213.48 L729.49,213.85 L729.88,213.26 L730.43,210.91 L730.09,208.49 L729.56,207.21 L729.80,211.53 L729.70,208.32 L730.19,210.42 L729.93,209.53 L729.95,207.02 L730.55,207.18 L730.46,206.60 L730.95,204.74 L730.06,202.73 L731.09,205.61 L730.27,206.05 L730.57,206.06 L730.85,203.62 L731.18,203.37 L730.56,204.36 L730.61,203.83 L730.48,202.24 L730.70,201.51 L731.19,202.90 L731.60,199.20 L731.40,197.26 L730.57,199.59 L730.75,198.10 L730.78,200.48 L731.36,198.05 L731.89,194.83 L731.56,196.73 L731.06,194.57 L730.97,194.41 L731.57,193.25 L731.94,193.77 L731.33,191.93 L731.96,193.50 L731.44,191.87 L731.68,190.35 L732.25,191.23 L731.76,189.98 L731.65,192.24 L732.59,188.89 L731.83,194.15 L732.03,191.22 L732.44,191.32 L732.38,195.47 L732.55,193.34 L731.79,196.74 L731.80,195.79 L732.58,197.99 L732.53,195.40 L731.75,195.27 L731.78,196.95 L732.74,197.14 L732.06,198.28 L732.44,196.84 L732.88,198.92 L732.38,197.62 L732.29,199.59 L732.33,198.70 L732.12,201.09 L732.55,200.41 L732.52,204.17 L732.00,201.55 L732.40,202.95 L732.58,201.34 L732.46,204.45 L732.82,205.57 L732.14,202.57 L732.84,205.47 L732.41,206.13 L733.02,205.53 L732.82,206.30 L732.96,205.93 L732.24,207.72 L733.22,209.64 L733.41,211.32 L732.87,210.36 L733.17,208.63 L732.74,209.91 L733.11,208.87 L733.33,212.39 L732.67,210.05 L732.61,213.01 L733.59,214.76 L732.82,213.97 L733.45,214.12 L733.33,213.52 L733.67,215.31 L733.40,216.68 L733.83,215.98 L733.75,216.73 L733.21,215.74 L733.51,217.43 L733.67,219.93 L733.96,220.02 L734.41,216.99 L735.07,218.10 L734.16,220.02 L734.33,218.96 L734.86,220.36 L735.07,219.99 L735.27,221.11 L734.63,222.76 L734.39,223.99 L734.41,221.58 L735.05,225.56 L735.63,225.52 L735.55,222.37 L735.34,222.53 L734.99,226.76 L735.48,227.72 L734.93,226.32 L734.71,225.19 L735.28,227.52 L735.32,226.32 L735.07,226.31 L734.92,229.62 L734.93,229.41 L735.05,231.62 L735.93,232.34 L735.20,232.99 L734.97,232.14 L735.75,234.01 L735.12,230.10 L735.40,230.92 L735.96,235.31 L736.01,232.95 L735.72,231.97 L735.19,234.23 L735.92,237.20 L735.93,238.04 L735.34,236.80 L736.30,236.62 L736.02,237.50 L735.71,237.53 L735.57,235.97 L735.45,237.27 L736.28,237.16 L736.24,241.97 L735.69,240.73 L735.94,240.33 L735.80,239.86 L736.19,236.82 L735.91,235.98 L736.58,237.81 L736.46,238.51 L736.28,235.09 L736.46,235.70 L736.47,236.75 L736.41,236.47 L735.91,233.58 L736.49,232.51 L736.48,230.56 L736.31,230.55 L737.13,233.68 L736.77,229.56 L736.17,230.83 L736.79,229.44 L736.87,229.56 L736.96,227.36 L736.49,229.47 L737.42,228.77 L737.08,229.83 L737.28,227.57 L737.27,226.76 L737.13,225.88 L737.20,227.13 L736.99,226.00 L737.35,224.29 L737.13,224.25 L736.98,223.43 L737.72,224.14 L737.48,221.54 L737.50,222.69 L737.25,222.84 L737.24,219.15 L737.59,221.16 L737.66,222.66 L737.32,220.82 L737.09,221.02 L737.55,220.98 L737.83,218.35 L738.23,218.30 L737.14,215.70 L737.37,217.57 L738.33,215.24 L737.52,216.25 L737.47,214.93 L737.40,213.87 L738.15,217.01 L737.43,213.42 L738.40,216.03 L738.41,211.09 L738.58,212.90 L737.96,211.85 L738.16,209.16 L738.56,209.83 L738.59,209.26 L738.53,209.32 L738.72,210.77 L738.07,209.56 L737.95,207.47 L738.06,206.15 L738.72,206.75 L738.37,204.66 L737.99,206.74 L738.08,207.21 L738.07,206.98 L738.27,207.19 L738.11,202.62 L738.13,202.69 L739.16,202.77 L738.51,202.59 L738.16,204.07 L739.14,200.09 L738.34,200.85 L739.06,199.60 L738.68,203.29 L738.79,201.39 L738.64,198.21 L738.60,198.43 L738.44,200.35 L739.25,197.69 L739.56,195.31 L739.24,198.91 L738.77,197.16 L739.75,201.11 L739.63,197.22 L738.80,198.70 L738.88,201.29 L739.84,203.07 L739.07,200.65 L739.85,202.33 L739.86,200.34 L739.53,201.29 L739.24,202.00 L739.56,204.43 L740.35,206.88 L739.94,206.42 L739.78,206.50 L740.10,206.07 L740.04,206.32 L740.76,209.04 L740.66,208.94 L739.78,207.22 L740.35,207.29 L740.70,210.57 L740.81,211.83 L740.00,209.18 L740.40,210.61 L741.14,213.07 L741.03,211.88 L740.78,213.33 L741.36,212.38 L740.95,214.67 L740.50,216.12 L741.03,215.51 L740.58,213.76 L741.52,215.55 L741.61,214.02 L740.82,218.57 L741.22,216.89 L740.83,216.31 L741.87,216.46 L741.94,219.80 L741.45,218.60 L741.41,216.93 L742.14,220.00 L741.79,217.94 L742.23,218.35 L741.94,219.61 L741.41,222.23 L741.73,221.88 L741.75,220.99 L742.17,220.93 L742.03,225.84 L742.05,223.55 L742.37,222.81 L741.66,225.95 L741.74,224.93 L741.66,226.99 L741.77,228.29 L741.98,228.62 L742.65,227.64 L742.89,229.12 L742.74,224.85 L742.12,225.69 L743.08,225.36 L742.83,222.73 L743.09,224.77 L742.37,223.95 L742.24,225.29 L742.50,224.01 L742.39,220.42 L742.41,223.82 L742.44,223.67 L742.36,223.23 L742.98,221.43 L743.49,220.63 L743.61,218.32 L743.42,219.52 L743.69,217.45 L743.10,219.29 L743.62,216.30 L743.80,217.52 L743.54,218.64 L742.89,217.34 L743.58,217.40 L742.84,213.24 L743.06,212.77 L743.76,215.61 L743.32,214.77 L743.10,215.51 L743.48,211.43 L743.88,211.11 L743.92,213.53 L743.77,210.44 L743.77,209.91 L743.33,210.52 L744.16,211.63 L743.33,210.80 L744.16,207.52 L744.04,209.98 L743.91,211.08 L744.07,207.92 L744.06,208.77 L744.09,211.68 L744.51,211.78 L744.51,208.73 L744.78,213.48 L744.87,213.86 L744.25,215.04 L744.54,212.62 L744.75,214.75 L745.29,214.75 L745.34,211.95 L745.00,213.98 L745.56,216.03 L745.73,214.35 L745.01,214.15 L746.13,218.69 L746.28,219.47 L745.85,218.93 L745.88,218.36 L746.47,220.90 L745.62,218.87 L745.96,219.86 L746.63,221.69 L745.70,221.24 L745.83,221.31 L746.73,221.80 L746.38,222.96 L747.01,220.93 L746.55,224.89 L746.85,221.39 L746.59,223.57 L746.51,223.95 L747.03,223.29 L746.84,225.60 L747.00,227.21 L746.82,224.85 L747.39,227.23 L747.58,228.07 L747.70,227.22 L747.17,228.77 L747.71,227.06 L748.20,230.98 L748.14,231.30 L747.54,230.70 L748.37,229.79 L748.01,230.15 L747.55,231.93 L747.86,230.34 L748.65,234.04 L748.00,231.19 L748.10,235.88 L748.63,235.50 L748.83,236.32 L748.89,233.21 L748.04,236.58 L748.37,238.12 L748.67,236.40 L748.75,237.31 L749.11,235.55 L748.23,238.15 L748.36,238.55 L749.02,238.72 L748.38,240.69 L749.37,239.05 L748.45,241.10 L748.55,241.51 L749.07,239.57 L748.47,240.24 L749.48,243.30 L749.25,241.04 L748.44,241.87 L748.42,241.80 L749.51,245.51 L748.62,242.78 L748.95,243.44 L748.72,245.16 L748.64,247.85 L748.71,247.53 L748.71,248.12 L749.77,246.59 L749.15,247.39 L749.83,249.63 L748.79,249.63 L749.50,250.65 L749.16,250.77 L748.83,251.31 L749.46,249.62 L749.80,250.76 L749.37,247.28 L749.42,248.36 L750.21,245.50 L749.24,246.75 L749.15,244.91 L749.35,247.80 L750.37,245.76 L750.00,246.18 L750.15,243.52 L749.64,245.37 L749.94,242.28 L750.57,243.45 L749.88,242.93 L749.79,243.04 L749.68,239.75 L750.41,241.38 L750.44,240.38 L750.08,238.62 L750.36,239.95 L751.03,239.06 L750.88,238.42 L750.63,236.06 L750.33,235.53 L750.61,235.65 L751.32,235.02 L750.60,235.18 L750.72,233.62 L750.97,236.44 L751.09,236.46 L750.90,234.80 L750.96,235.20 L750.73,231.44 L750.57,234.04 L751.29,230.64 L751.13,232.51 L751.12,231.88 L750.70,231.09 L751.86,229.75 L751.13,230.03 L751.93,229.76 L751.30,228.52 L751.86,229.72 L751.68,226.38 L751.34,226.23 L751.39,228.16 L751.57,228.20 L751.18,227.48 L751.10,224.75 L752.17,226.45 L751.70,224.16 L751.64,226.02 L751.38,222.29 L752.21,224.78 L752.16,222.38 L752.13,223.39 L752.14,219.33 L751.97,222.59 L752.21,219.91 L751.75,218.24 L752.70,220.17 L752.35,216.87 L751.63,218.30 L751.99,216.11 L751.82,218.25 L752.30,216.80" fill="none" stroke="#13305E" stroke-width="2.0" stroke-linejoin="round" stroke-linecap="round"/>
<rect x="102" y="65" width="389" height="176" fill="#000"/>
<rect x="103" y="99" width="386" height="18" fill="#690000"/>
<rect x="103" y="118" width="386" height="18" fill="#FFFFCC"/>
<rect x="103" y="137" width="386" height="18" fill="#D8D8D8"/>
<rect x="103" y="156" width="386" height="18" fill="#FFFFCC"/>
<rect x="103" y="175" width="386" height="18" fill="#D8D8D8"/>
<rect x="103" y="194" width="386" height="46" fill="#690000"/>
<rect x="245" y="99" width="1" height="95" fill="#000"/>
<rect x="326" y="99" width="1" height="95" fill="#000"/>
<rect x="408" y="99" width="1" height="95" fill="#000"/>
<rect x="102" y="240" width="390" height="28" fill="#000"/>
<text x="128.8" y="88.9" font-family='"Liberation Sans", sans-serif' font-size="21" font-weight="normal" fill="#FFFF99" text-anchor="start" textLength="336.5" lengthAdjust="spacingAndGlyphs">Gold Bull and Bear Markets: 1969 - 2015</text>
<text x="259.8" y="112.6" font-family='"Liberation Sans", sans-serif' font-size="14" font-weight="bold" fill="#FFFF99" text-anchor="start" textLength="65" lengthAdjust="spacingAndGlyphs">Start Price</text>
<text x="346.2" y="112.6" font-family='"Liberation Sans", sans-serif' font-size="14" font-weight="bold" fill="#FFFF99" text-anchor="start" textLength="59.6" lengthAdjust="spacingAndGlyphs">End Price</text>
<text x="425.4" y="112.6" font-family='"Liberation Sans", sans-serif' font-size="14" font-weight="bold" fill="#FFFF99" text-anchor="start" textLength="61.4" lengthAdjust="spacingAndGlyphs">% Change</text>
<text x="106.1" y="131.9" font-family='"Liberation Sans", sans-serif' font-size="15.5" font-weight="bold" fill="#000" text-anchor="start" textLength="85.8" lengthAdjust="spacingAndGlyphs">1969-1980 Bull</text>
<text x="325.4" y="131.9" font-family='"Liberation Sans", sans-serif' font-size="15.5" font-weight="bold" fill="#000" text-anchor="end" textLength="37.8" lengthAdjust="spacingAndGlyphs">$40.90</text>
<text x="406.4" y="131.9" font-family='"Liberation Sans", sans-serif' font-size="15.5" font-weight="bold" fill="#000" text-anchor="end" textLength="44.7" lengthAdjust="spacingAndGlyphs">$825.50</text>
<text x="487.4" y="131.9" font-family='"Liberation Sans", sans-serif' font-size="15.5" font-weight="bold" fill="#000" text-anchor="end" textLength="55.6" lengthAdjust="spacingAndGlyphs">1918.34%</text>
<text x="106.1" y="150.9" font-family='"Liberation Sans", sans-serif' font-size="15.5" font-weight="bold" fill="#000" text-anchor="start" textLength="90.0" lengthAdjust="spacingAndGlyphs">1980-1999 Bear</text>
<text x="325.4" y="150.9" font-family='"Liberation Sans", sans-serif' font-size="15.5" font-weight="bold" fill="#000" text-anchor="end" textLength="44.7" lengthAdjust="spacingAndGlyphs">$825.50</text>
<text x="406.4" y="150.9" font-family='"Liberation Sans", sans-serif' font-size="15.5" font-weight="bold" fill="#000" text-anchor="end" textLength="44.7" lengthAdjust="spacingAndGlyphs">$253.70</text>
<text x="487.4" y="150.9" font-family='"Liberation Sans", sans-serif' font-size="15.5" font-weight="bold" fill="#000" text-anchor="end" textLength="46.0" lengthAdjust="spacingAndGlyphs">-69.27%</text>
<text x="106.1" y="169.9" font-family='"Liberation Sans", sans-serif' font-size="15.5" font-weight="bold" fill="#000" text-anchor="start" textLength="85.2" lengthAdjust="spacingAndGlyphs">1999-2011 Bull</text>
<text x="325.4" y="169.9" font-family='"Liberation Sans", sans-serif' font-size="15.5" font-weight="bold" fill="#000" text-anchor="end" textLength="44.7" lengthAdjust="spacingAndGlyphs">$253.70</text>
<text x="406.4" y="169.9" font-family='"Liberation Sans", sans-serif' font-size="15.5" font-weight="bold" fill="#000" text-anchor="end" textLength="55.0" lengthAdjust="spacingAndGlyphs">$1,888.70</text>
<text x="487.4" y="169.9" font-family='"Liberation Sans", sans-serif' font-size="15.5" font-weight="bold" fill="#000" text-anchor="end" textLength="48.8" lengthAdjust="spacingAndGlyphs">644.46%</text>
<text x="106.1" y="188.9" font-family='"Liberation Sans", sans-serif' font-size="15.5" font-weight="bold" fill="#000" text-anchor="start" textLength="127.0" lengthAdjust="spacingAndGlyphs">Aug 2011 to Nov 2014</text>
<text x="325.4" y="188.9" font-family='"Liberation Sans", sans-serif' font-size="15.5" font-weight="bold" fill="#000" text-anchor="end" textLength="55.0" lengthAdjust="spacingAndGlyphs">$1,888.70</text>
<text x="406.4" y="188.9" font-family='"Liberation Sans", sans-serif' font-size="15.5" font-weight="bold" fill="#000" text-anchor="end" textLength="55.0" lengthAdjust="spacingAndGlyphs">$1,140.03</text>
<text x="487.4" y="188.9" font-family='"Liberation Sans", sans-serif' font-size="15.5" font-weight="bold" fill="#000" text-anchor="end" textLength="46.0" lengthAdjust="spacingAndGlyphs">-39.64%</text>
<text x="106.2" y="212" font-family='"Liberation Sans", sans-serif' font-size="17.5" font-weight="normal" fill="#FFFF99" text-anchor="start" textLength="373.5" lengthAdjust="spacingAndGlyphs">The Current Bull Market has Underperformed the 1970s</text>
<text x="106.2" y="235.7" font-family='"Liberation Sans", sans-serif' font-size="17.5" font-weight="normal" fill="#FFFF99" text-anchor="start" textLength="141.0" lengthAdjust="spacingAndGlyphs">Gold Market - So Far</text>
<text x="188" y="257.3" font-family='"Liberation Serif", serif' font-size="15" font-weight="bold" fill="#F2EDC4" text-anchor="start" textLength="219" lengthAdjust="spacingAndGlyphs">Graphic by Mark J. Lundeen</text>
<text x="281.2" y="43" font-family='"Liberation Sans", sans-serif' font-size="26" font-weight="bold" fill="#000" text-anchor="start" textLength="330.5" lengthAdjust="spacingAndGlyphs">Gold Daily Price 1969-2015</text>
<rect x="0" y="0" width="858" height="2" fill="#000"/>
<rect x="0" y="0" width="3" height="623" fill="#000"/>
<rect x="855" y="0" width="3" height="623" fill="#000"/>
<rect x="0" y="620" width="858" height="3" fill="#000"/>
<rect x="3" y="0" width="1" height="35" fill="#000"/>
<rect x="117" y="0" width="2" height="35" fill="#000"/>
<rect x="0" y="33" width="119" height="2" fill="#000"/>
<text x="18.6" y="23.0" font-family='"Liberation Sans", sans-serif' font-size="16.2" font-weight="normal" fill="#000" text-anchor="start" textLength="84" lengthAdjust="spacingAndGlyphs">30 Jan 2015</text>
<rect x="759" y="0" width="2" height="35" fill="#000"/>
<rect x="759" y="33" width="99" height="2" fill="#000"/>
<text x="772.6" y="23.0" font-family='"Liberation Sans", sans-serif' font-size="16.2" font-weight="normal" fill="#000" text-anchor="start" textLength="71" lengthAdjust="spacingAndGlyphs">GATA.Org</text>
<text x="86.4" y="498.8" font-family='"Liberation Sans", sans-serif' font-size="15" font-weight="normal" fill="#000" text-anchor="end" textLength="9.2" lengthAdjust="spacingAndGlyphs">0</text>
<text x="795.2" y="498.8" font-family='"Liberation Sans", sans-serif' font-size="15" font-weight="normal" fill="#000" text-anchor="start" textLength="9.3" lengthAdjust="spacingAndGlyphs">0</text>
<text x="86.4" y="456.8" font-family='"Liberation Sans", sans-serif' font-size="15" font-weight="normal" fill="#000" text-anchor="end" textLength="27.5" lengthAdjust="spacingAndGlyphs">200</text>
<text x="795.2" y="456.8" font-family='"Liberation Sans", sans-serif' font-size="15" font-weight="normal" fill="#000" text-anchor="start" textLength="27.8" lengthAdjust="spacingAndGlyphs">200</text>
<text x="86.4" y="413.8" font-family='"Liberation Sans", sans-serif' font-size="15" font-weight="normal" fill="#000" text-anchor="end" textLength="27.5" lengthAdjust="spacingAndGlyphs">400</text>
<text x="795.2" y="413.8" font-family='"Liberation Sans", sans-serif' font-size="15" font-weight="normal" fill="#000" text-anchor="start" textLength="27.8" lengthAdjust="spacingAndGlyphs">400</text>
<text x="86.4" y="370.8" font-family='"Liberation Sans", sans-serif' font-size="15" font-weight="normal" fill="#000" text-anchor="end" textLength="27.5" lengthAdjust="spacingAndGlyphs">600</text>
<text x="795.2" y="370.8" font-family='"Liberation Sans", sans-serif' font-size="15" font-weight="normal" fill="#000" text-anchor="start" textLength="27.8" lengthAdjust="spacingAndGlyphs">600</text>
<text x="86.4" y="327.8" font-family='"Liberation Sans", sans-serif' font-size="15" font-weight="normal" fill="#000" text-anchor="end" textLength="27.5" lengthAdjust="spacingAndGlyphs">800</text>
<text x="795.2" y="327.8" font-family='"Liberation Sans", sans-serif' font-size="15" font-weight="normal" fill="#000" text-anchor="start" textLength="27.8" lengthAdjust="spacingAndGlyphs">800</text>
<text x="86.4" y="285.8" font-family='"Liberation Sans", sans-serif' font-size="15" font-weight="normal" fill="#000" text-anchor="end" textLength="41.3" lengthAdjust="spacingAndGlyphs">1,000</text>
<text x="795.2" y="285.8" font-family='"Liberation Sans", sans-serif' font-size="15" font-weight="normal" fill="#000" text-anchor="start" textLength="37.0" lengthAdjust="spacingAndGlyphs">1000</text>
<text x="86.4" y="242.8" font-family='"Liberation Sans", sans-serif' font-size="15" font-weight="normal" fill="#000" text-anchor="end" textLength="41.3" lengthAdjust="spacingAndGlyphs">1,200</text>
<text x="795.2" y="242.8" font-family='"Liberation Sans", sans-serif' font-size="15" font-weight="normal" fill="#000" text-anchor="start" textLength="37.0" lengthAdjust="spacingAndGlyphs">1200</text>
<text x="86.4" y="199.8" font-family='"Liberation Sans", sans-serif' font-size="15" font-weight="normal" fill="#000" text-anchor="end" textLength="41.3" lengthAdjust="spacingAndGlyphs">1,400</text>
<text x="795.2" y="199.8" font-family='"Liberation Sans", sans-serif' font-size="15" font-weight="normal" fill="#000" text-anchor="start" textLength="37.0" lengthAdjust="spacingAndGlyphs">1400</text>
<text x="86.4" y="156.8" font-family='"Liberation Sans", sans-serif' font-size="15" font-weight="normal" fill="#000" text-anchor="end" textLength="41.3" lengthAdjust="spacingAndGlyphs">1,600</text>
<text x="795.2" y="156.8" font-family='"Liberation Sans", sans-serif' font-size="15" font-weight="normal" fill="#000" text-anchor="start" textLength="37.0" lengthAdjust="spacingAndGlyphs">1600</text>
<text x="86.4" y="114.8" font-family='"Liberation Sans", sans-serif' font-size="15" font-weight="normal" fill="#000" text-anchor="end" textLength="41.3" lengthAdjust="spacingAndGlyphs">1,800</text>
<text x="795.2" y="114.8" font-family='"Liberation Sans", sans-serif' font-size="15" font-weight="normal" fill="#000" text-anchor="start" textLength="37.0" lengthAdjust="spacingAndGlyphs">1800</text>
<text x="86.4" y="71.8" font-family='"Liberation Sans", sans-serif' font-size="15" font-weight="normal" fill="#000" text-anchor="end" textLength="41.3" lengthAdjust="spacingAndGlyphs">2,000</text>
<text x="795.2" y="71.8" font-family='"Liberation Sans", sans-serif' font-size="15" font-weight="normal" fill="#000" text-anchor="start" textLength="37.0" lengthAdjust="spacingAndGlyphs">2000</text>
<g transform="translate(29.2,278.2) rotate(-90)"><text x="0" y="0" font-family='"Liberation Sans", sans-serif' font-size="15" font-weight="bold" fill="#000" text-anchor="middle" textLength="75" lengthAdjust="spacingAndGlyphs">US Dollars</text></g>
<g transform="translate(108.8,510.9) rotate(-90)"><text x="0" y="0" font-family='"Liberation Sans", sans-serif' font-size="15.8" font-weight="normal" fill="#000" text-anchor="end" textLength="59.8" lengthAdjust="spacingAndGlyphs">2-Jan-69</text></g>
<g transform="translate(135.8,510.9) rotate(-90)"><text x="0" y="0" font-family='"Liberation Sans", sans-serif' font-size="15.8" font-weight="normal" fill="#000" text-anchor="end" textLength="59.8" lengthAdjust="spacingAndGlyphs">2-Jan-71</text></g>
<g transform="translate(164.8,510.9) rotate(-90)"><text x="0" y="0" font-family='"Liberation Sans", sans-serif' font-size="15.8" font-weight="normal" fill="#000" text-anchor="end" textLength="59.8" lengthAdjust="spacingAndGlyphs">2-Jan-73</text></g>
<g transform="translate(192.8,510.9) rotate(-90)"><text x="0" y="0" font-family='"Liberation Sans", sans-serif' font-size="15.8" font-weight="normal" fill="#000" text-anchor="end" textLength="59.8" lengthAdjust="spacingAndGlyphs">2-Jan-75</text></g>
<g transform="translate(220.8,510.9) rotate(-90)"><text x="0" y="0" font-family='"Liberation Sans", sans-serif' font-size="15.8" font-weight="normal" fill="#000" text-anchor="end" textLength="59.8" lengthAdjust="spacingAndGlyphs">2-Jan-77</text></g>
<g transform="translate(248.8,510.9) rotate(-90)"><text x="0" y="0" font-family='"Liberation Sans", sans-serif' font-size="15.8" font-weight="normal" fill="#000" text-anchor="end" textLength="59.8" lengthAdjust="spacingAndGlyphs">2-Jan-79</text></g>
<g transform="translate(277.8,510.9) rotate(-90)"><text x="0" y="0" font-family='"Liberation Sans", sans-serif' font-size="15.8" font-weight="normal" fill="#000" text-anchor="end" textLength="59.8" lengthAdjust="spacingAndGlyphs">2-Jan-81</text></g>
<g transform="translate(305.8,510.9) rotate(-90)"><text x="0" y="0" font-family='"Liberation Sans", sans-serif' font-size="15.8" font-weight="normal" fill="#000" text-anchor="end" textLength="59.8" lengthAdjust="spacingAndGlyphs">2-Jan-83</text></g>
<g transform="translate(333.8,510.9) rotate(-90)"><text x="0" y="0" font-family='"Liberation Sans", sans-serif' font-size="15.8" font-weight="normal" fill="#000" text-anchor="end" textLength="59.8" lengthAdjust="spacingAndGlyphs">2-Jan-85</text></g>
<g transform="translate(361.8,510.9) rotate(-90)"><text x="0" y="0" font-family='"Liberation Sans", sans-serif' font-size="15.8" font-weight="normal" fill="#000" text-anchor="end" textLength="59.8" lengthAdjust="spacingAndGlyphs">2-Jan-87</text></g>
<g transform="translate(389.8,510.9) rotate(-90)"><text x="0" y="0" font-family='"Liberation Sans", sans-serif' font-size="15.8" font-weight="normal" fill="#000" text-anchor="end" textLength="59.8" lengthAdjust="spacingAndGlyphs">2-Jan-89</text></g>
<g transform="translate(417.8,510.9) rotate(-90)"><text x="0" y="0" font-family='"Liberation Sans", sans-serif' font-size="15.8" font-weight="normal" fill="#000" text-anchor="end" textLength="59.8" lengthAdjust="spacingAndGlyphs">2-Jan-91</text></g>
<g transform="translate(446.8,510.9) rotate(-90)"><text x="0" y="0" font-family='"Liberation Sans", sans-serif' font-size="15.8" font-weight="normal" fill="#000" text-anchor="end" textLength="59.8" lengthAdjust="spacingAndGlyphs">2-Jan-93</text></g>
<g transform="translate(474.8,510.9) rotate(-90)"><text x="0" y="0" font-family='"Liberation Sans", sans-serif' font-size="15.8" font-weight="normal" fill="#000" text-anchor="end" textLength="59.8" lengthAdjust="spacingAndGlyphs">2-Jan-95</text></g>
<g transform="translate(502.8,510.9) rotate(-90)"><text x="0" y="0" font-family='"Liberation Sans", sans-serif' font-size="15.8" font-weight="normal" fill="#000" text-anchor="end" textLength="59.8" lengthAdjust="spacingAndGlyphs">2-Jan-97</text></g>
<g transform="translate(530.8,510.9) rotate(-90)"><text x="0" y="0" font-family='"Liberation Sans", sans-serif' font-size="15.8" font-weight="normal" fill="#000" text-anchor="end" textLength="59.8" lengthAdjust="spacingAndGlyphs">2-Jan-99</text></g>
<g transform="translate(559.8,510.9) rotate(-90)"><text x="0" y="0" font-family='"Liberation Sans", sans-serif' font-size="15.8" font-weight="normal" fill="#000" text-anchor="end" textLength="59.8" lengthAdjust="spacingAndGlyphs">2-Jan-01</text></g>
<g transform="translate(587.8,510.9) rotate(-90)"><text x="0" y="0" font-family='"Liberation Sans", sans-serif' font-size="15.8" font-weight="normal" fill="#000" text-anchor="end" textLength="59.8" lengthAdjust="spacingAndGlyphs">2-Jan-03</text></g>
<g transform="translate(615.8,510.9) rotate(-90)"><text x="0" y="0" font-family='"Liberation Sans", sans-serif' font-size="15.8" font-weight="normal" fill="#000" text-anchor="end" textLength="59.8" lengthAdjust="spacingAndGlyphs">2-Jan-05</text></g>
<g transform="translate(643.8,510.9) rotate(-90)"><text x="0" y="0" font-family='"Liberation Sans", sans-serif' font-size="15.8" font-weight="normal" fill="#000" text-anchor="end" textLength="59.8" lengthAdjust="spacingAndGlyphs">2-Jan-07</text></g>
<g transform="translate(672.8,510.9) rotate(-90)"><text x="0" y="0" font-family='"Liberation Sans", sans-serif' font-size="15.8" font-weight="normal" fill="#000" text-anchor="end" textLength="59.8" lengthAdjust="spacingAndGlyphs">2-Jan-09</text></g>
<g transform="translate(700.8,510.9) rotate(-90)"><text x="0" y="0" font-family='"Liberation Sans", sans-serif' font-size="15.8" font-weight="normal" fill="#000" text-anchor="end" textLength="59.8" lengthAdjust="spacingAndGlyphs">2-Jan-11</text></g>
<g transform="translate(728.8,510.9) rotate(-90)"><text x="0" y="0" font-family='"Liberation Sans", sans-serif' font-size="15.8" font-weight="normal" fill="#000" text-anchor="end" textLength="59.8" lengthAdjust="spacingAndGlyphs">2-Jan-13</text></g>
<g transform="translate(756.8,510.9) rotate(-90)"><text x="0" y="0" font-family='"Liberation Sans", sans-serif' font-size="15.8" font-weight="normal" fill="#000" text-anchor="end" textLength="59.8" lengthAdjust="spacingAndGlyphs">2-Jan-15</text></g>
<g transform="translate(784.8,510.9) rotate(-90)"><text x="0" y="0" font-family='"Liberation Sans", sans-serif' font-size="15.8" font-weight="normal" fill="#000" text-anchor="end" textLength="59.8" lengthAdjust="spacingAndGlyphs">2-Jan-17</text></g>
<text x="344.6" y="603.6" font-family='"Liberation Sans", sans-serif' font-size="14.5" font-weight="bold" fill="#000" text-anchor="start" textLength="242" lengthAdjust="spacingAndGlyphs">WWW. ShareLynx.Com &amp; COMEX</text>
</svg>
</body></html>
